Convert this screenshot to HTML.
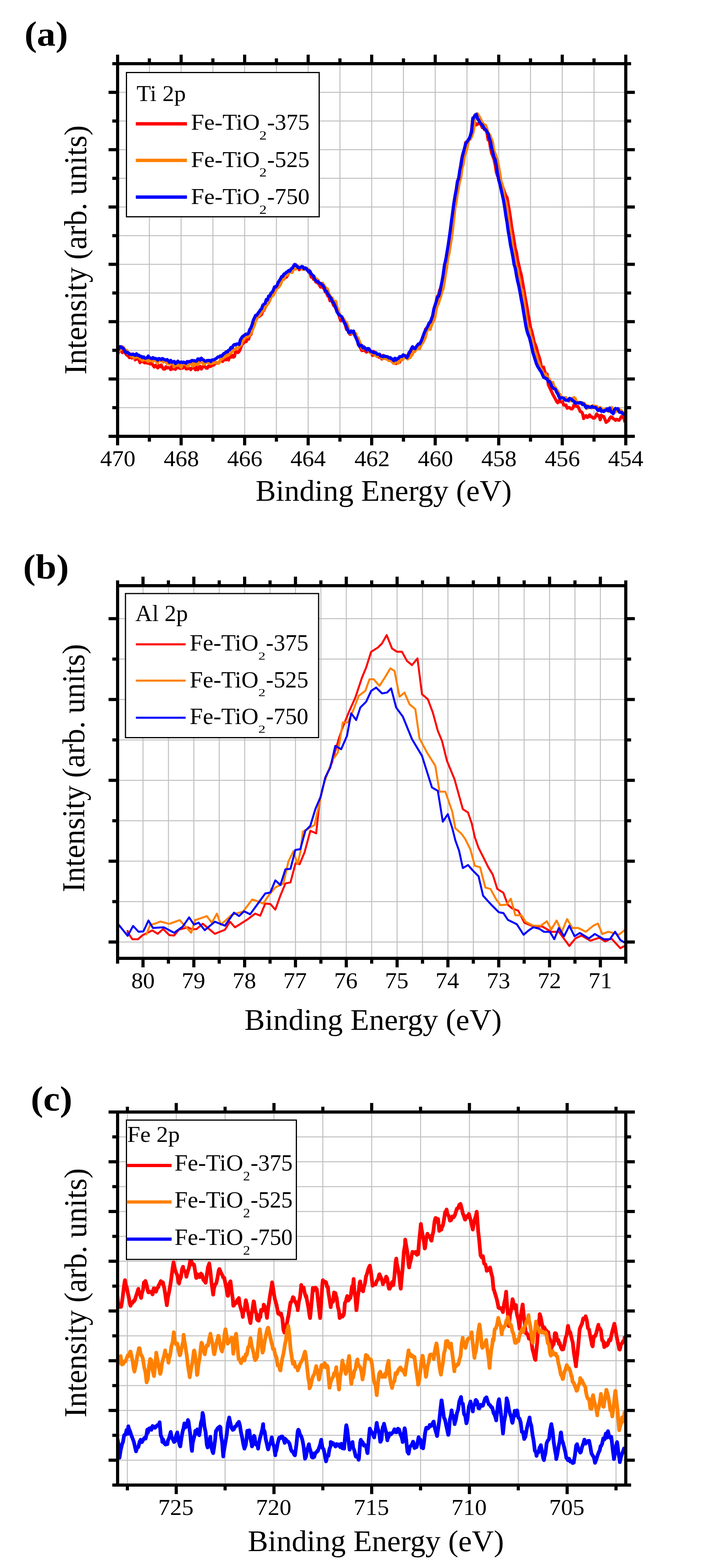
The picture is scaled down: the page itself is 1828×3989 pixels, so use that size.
<!DOCTYPE html>
<html><head><meta charset="utf-8"><title>XPS spectra</title>
<style>html,body{margin:0;padding:0;background:#fff;} svg{display:block;}</style>
</head><body>
<svg width="1828" height="3989" viewBox="0 0 1828 3989"><rect x="378.5" y="162" width="2.5" height="948" fill="#c0c0c0"/>
<rect x="459.25" y="162" width="2.5" height="948" fill="#c0c0c0"/>
<rect x="540" y="162" width="2.5" height="948" fill="#c0c0c0"/>
<rect x="620.75" y="162" width="2.5" height="948" fill="#c0c0c0"/>
<rect x="701.5" y="162" width="2.5" height="948" fill="#c0c0c0"/>
<rect x="782.25" y="162" width="2.5" height="948" fill="#c0c0c0"/>
<rect x="863" y="162" width="2.5" height="948" fill="#c0c0c0"/>
<rect x="943.75" y="162" width="2.5" height="948" fill="#c0c0c0"/>
<rect x="1024.5" y="162" width="2.5" height="948" fill="#c0c0c0"/>
<rect x="1105.25" y="162" width="2.5" height="948" fill="#c0c0c0"/>
<rect x="1186" y="162" width="2.5" height="948" fill="#c0c0c0"/>
<rect x="1266.75" y="162" width="2.5" height="948" fill="#c0c0c0"/>
<rect x="1347.5" y="162" width="2.5" height="948" fill="#c0c0c0"/>
<rect x="1428.25" y="162" width="2.5" height="948" fill="#c0c0c0"/>
<rect x="1509" y="162" width="2.5" height="948" fill="#c0c0c0"/>
<rect x="299" y="1035.83" width="1292" height="2.5" fill="#c0c0c0"/>
<rect x="299" y="962.9" width="1292" height="2.5" fill="#c0c0c0"/>
<rect x="299" y="889.98" width="1292" height="2.5" fill="#c0c0c0"/>
<rect x="299" y="817.06" width="1292" height="2.5" fill="#c0c0c0"/>
<rect x="299" y="744.13" width="1292" height="2.5" fill="#c0c0c0"/>
<rect x="299" y="671.21" width="1292" height="2.5" fill="#c0c0c0"/>
<rect x="299" y="598.29" width="1292" height="2.5" fill="#c0c0c0"/>
<rect x="299" y="525.37" width="1292" height="2.5" fill="#c0c0c0"/>
<rect x="299" y="452.44" width="1292" height="2.5" fill="#c0c0c0"/>
<rect x="299" y="379.52" width="1292" height="2.5" fill="#c0c0c0"/>
<rect x="299" y="306.6" width="1292" height="2.5" fill="#c0c0c0"/>
<rect x="299" y="233.67" width="1292" height="2.5" fill="#c0c0c0"/>
<clipPath id="clipa"><rect x="299" y="162" width="1292" height="948"/></clipPath>
<polyline points="299.0,902.3 302.0,893.4 305.0,889.6 308.0,892.2 311.0,897.0 314.0,894.3 317.0,893.4 320.0,900.5 323.0,903.9 326.0,905.1 329.0,909.7 332.0,907.9 335.0,910.7 338.0,905.6 341.0,911.7 344.0,915.6 347.0,912.2 350.0,913.1 353.0,915.2 356.0,922.5 359.0,915.2 362.0,918.5 365.0,921.2 368.0,923.1 371.0,920.6 374.0,923.8 377.0,923.1 380.0,925.3 383.0,925.9 386.0,924.4 389.0,929.3 392.0,933.4 395.0,929.4 398.0,933.1 401.0,935.9 404.0,930.0 407.0,933.0 410.0,928.5 413.0,935.0 416.0,939.1 419.0,938.9 422.0,932.8 425.0,936.3 428.0,935.1 431.0,935.7 434.0,940.2 437.0,931.6 440.0,938.6 443.0,935.3 446.0,939.6 449.0,935.8 452.0,933.2 455.0,936.0 458.0,937.4 461.0,935.3 464.0,936.7 467.0,933.6 470.0,928.8 473.0,938.6 476.0,938.4 479.0,937.0 482.0,937.1 485.0,940.3 488.0,936.0 491.0,935.2 494.0,936.7 497.0,940.8 500.0,933.0 503.0,940.7 506.0,934.6 509.0,932.2 512.0,938.9 515.0,934.4 518.0,930.5 521.0,932.9 524.0,936.4 527.0,936.9 530.0,931.2 533.0,932.4 536.0,932.1 539.0,926.8 542.0,929.3 545.0,927.0 548.0,924.3 551.0,923.2 554.0,923.7 557.0,922.1 560.0,918.4 563.0,916.9 566.0,919.6 569.0,915.0 572.0,915.5 575.0,915.2 578.0,912.1 581.0,915.8 584.0,905.1 587.0,908.5 590.0,903.7 593.0,908.8 596.0,907.1 599.0,894.1 602.0,894.6 605.0,896.9 608.0,894.0 611.0,887.7 614.0,879.1 617.0,874.5 620.0,872.2 623.0,867.9 626.0,869.1 629.0,857.1 632.0,863.0 635.0,851.6 638.0,851.2 641.0,838.7 644.0,827.7 647.0,822.4 650.0,813.9 653.0,810.0 656.0,804.2 659.0,804.9 662.0,802.5 665.0,800.1 668.0,791.5 671.0,789.9 674.0,781.7 677.0,776.2 680.0,773.1 683.0,769.4 686.0,760.2 689.0,755.4 692.0,750.6 695.0,746.2 698.0,738.2 701.0,739.0 704.0,730.0 707.0,727.8 710.0,719.1 713.0,717.9 716.0,713.2 719.0,706.0 722.0,710.1 725.0,703.0 728.0,705.1 731.0,700.5 734.0,693.5 737.0,690.9 740.0,689.7 743.0,685.0 746.0,681.5 749.0,677.1 752.0,673.5 755.0,681.2 758.0,678.2 761.0,686.2 764.0,682.5 767.0,682.1 770.0,683.2 773.0,684.7 776.0,681.8 779.0,683.0 782.0,687.2 785.0,686.5 788.0,693.0 791.0,704.8 794.0,701.0 797.0,710.3 800.0,708.4 803.0,717.7 806.0,718.3 809.0,721.0 812.0,724.8 815.0,730.3 818.0,727.8 821.0,732.2 824.0,733.4 827.0,742.6 830.0,744.6 833.0,752.6 836.0,754.8 839.0,765.0 842.0,758.6 845.0,768.5 848.0,776.9 851.0,779.6 854.0,785.4 857.0,794.0 860.0,797.0 863.0,805.3 866.0,816.0 869.0,815.9 872.0,812.9 875.0,819.1 878.0,827.3 881.0,838.3 884.0,839.6 887.0,846.7 890.0,850.7 893.0,849.6 896.0,844.9 899.0,845.4 902.0,850.7 905.0,859.9 908.0,861.9 911.0,877.4 914.0,879.8 917.0,886.2 920.0,891.9 923.0,891.3 926.0,885.8 929.0,893.4 932.0,895.8 935.0,891.6 938.0,892.4 941.0,896.5 944.0,893.5 947.0,904.2 950.0,894.0 953.0,899.4 956.0,903.4 959.0,905.0 962.0,907.7 965.0,909.2 968.0,908.5 971.0,913.3 974.0,904.2 977.0,911.4 980.0,910.0 983.0,913.3 986.0,914.4 989.0,911.7 992.0,913.3 995.0,918.3 998.0,917.7 1001.0,915.4 1004.0,924.2 1007.0,924.7 1010.0,912.2 1013.0,916.4 1016.0,921.4 1019.0,913.8 1022.0,909.6 1025.0,905.9 1028.0,906.4 1031.0,908.9 1034.0,909.3 1037.0,911.6 1040.0,902.8 1043.0,897.4 1046.0,890.0 1049.0,891.4 1052.0,886.8 1055.0,886.9 1058.0,888.5 1061.0,884.4 1064.0,880.9 1067.0,876.6 1070.0,871.8 1073.0,864.4 1076.0,855.4 1079.0,850.1 1082.0,837.3 1085.0,839.6 1088.0,830.7 1091.0,823.5 1094.0,819.3 1097.0,812.8 1100.0,803.3 1103.0,788.6 1106.0,782.2 1109.0,767.0 1112.0,754.0 1115.0,750.1 1118.0,737.8 1121.0,731.0 1124.0,717.5 1127.0,699.4 1130.0,676.6 1133.0,661.2 1136.0,650.8 1139.0,628.4 1142.0,609.5 1145.0,589.2 1148.0,569.2 1151.0,541.4 1154.0,516.8 1157.0,499.5 1160.0,482.3 1163.0,461.6 1166.0,452.5 1169.0,437.0 1172.0,414.8 1175.0,398.3 1178.0,386.8 1181.0,382.7 1184.0,362.5 1187.0,360.7 1190.0,356.5 1193.0,354.3 1196.0,347.1 1199.0,330.5 1202.0,299.9 1205.0,311.1 1208.0,313.2 1211.0,317.6 1214.0,316.1 1217.0,313.0 1220.0,314.9 1223.0,316.4 1226.0,324.6 1229.0,324.8 1232.0,330.1 1235.0,330.3 1238.0,337.1 1241.0,356.1 1244.0,356.6 1247.0,376.2 1250.0,390.0 1253.0,397.2 1256.0,405.4 1259.0,419.5 1262.0,438.3 1265.0,447.6 1268.0,451.8 1271.0,462.9 1274.0,466.0 1277.0,472.7 1280.0,481.1 1283.0,489.6 1286.0,498.0 1289.0,501.9 1292.0,518.9 1295.0,535.7 1298.0,555.0 1301.0,577.9 1304.0,594.2 1307.0,612.0 1310.0,631.8 1313.0,641.7 1316.0,661.6 1319.0,673.4 1322.0,687.9 1325.0,697.8 1328.0,714.7 1331.0,732.0 1334.0,749.4 1337.0,765.8 1340.0,781.6 1343.0,800.7 1346.0,816.8 1349.0,834.1 1352.0,842.6 1355.0,855.6 1358.0,870.1 1361.0,876.9 1364.0,884.6 1367.0,897.9 1370.0,905.8 1373.0,915.7 1376.0,931.8 1379.0,935.0 1382.0,934.2 1385.0,945.2 1388.0,951.8 1391.0,952.1 1394.0,978.7 1397.0,984.8 1400.0,991.6 1403.0,997.7 1406.0,1004.3 1409.0,1009.6 1412.0,1015.0 1415.0,1021.1 1418.0,1024.6 1421.0,1019.2 1424.0,1022.2 1427.0,1022.3 1430.0,1021.9 1433.0,1030.3 1436.0,1031.0 1439.0,1030.3 1442.0,1038.4 1445.0,1037.0 1448.0,1036.7 1451.0,1039.8 1454.0,1040.4 1457.0,1037.2 1460.0,1027.8 1463.0,1032.2 1466.0,1033.8 1469.0,1034.0 1472.0,1039.4 1475.0,1046.7 1478.0,1047.6 1481.0,1051.7 1484.0,1064.8 1487.0,1058.6 1490.0,1057.4 1493.0,1062.0 1496.0,1060.7 1499.0,1055.5 1502.0,1059.9 1505.0,1060.5 1508.0,1063.7 1511.0,1063.8 1514.0,1060.4 1517.0,1052.9 1520.0,1057.3 1523.0,1057.6 1526.0,1067.8 1529.0,1056.2 1532.0,1059.5 1535.0,1059.5 1538.0,1066.8 1541.0,1074.5 1544.0,1072.0 1547.0,1070.2 1550.0,1064.4 1553.0,1060.5 1556.0,1061.4 1559.0,1065.3 1562.0,1066.3 1565.0,1069.4 1568.0,1066.7 1571.0,1068.2 1574.0,1069.2 1577.0,1064.7 1580.0,1059.4 1583.0,1061.5 1586.0,1063.0 1589.0,1074.4" fill="none" stroke="#ff0000" stroke-width="8" stroke-linejoin="round" stroke-linecap="butt" clip-path="url(#clipa)"/>
<polyline points="301.5,892.5 304.5,891.1 307.5,887.9 310.5,882.3 313.5,883.5 316.5,889.5 319.5,895.1 322.5,891.5 325.5,898.9 328.5,899.7 331.5,900.2 334.5,906.7 337.5,904.2 340.5,911.1 343.5,905.2 346.5,908.6 349.5,907.0 352.5,906.3 355.5,912.4 358.5,912.6 361.5,916.7 364.5,915.6 367.5,912.9 370.5,915.8 373.5,916.5 376.5,919.2 379.5,914.2 382.5,916.8 385.5,912.4 388.5,919.6 391.5,915.4 394.5,914.1 397.5,919.6 400.5,923.6 403.5,916.7 406.5,917.7 409.5,918.3 412.5,917.0 415.5,921.0 418.5,918.1 421.5,919.4 424.5,924.1 427.5,921.5 430.5,925.9 433.5,923.0 436.5,923.3 439.5,922.2 442.5,933.0 445.5,927.2 448.5,929.2 451.5,928.8 454.5,929.6 457.5,929.3 460.5,934.5 463.5,926.2 466.5,924.7 469.5,926.3 472.5,925.3 475.5,931.1 478.5,931.3 481.5,925.9 484.5,924.3 487.5,926.9 490.5,931.3 493.5,919.0 496.5,927.6 499.5,922.4 502.5,927.5 505.5,920.8 508.5,922.3 511.5,918.2 514.5,919.5 517.5,926.6 520.5,925.5 523.5,922.6 526.5,921.7 529.5,919.3 532.5,923.9 535.5,924.9 538.5,924.3 541.5,923.9 544.5,920.6 547.5,923.0 550.5,921.6 553.5,923.8 556.5,923.9 559.5,916.7 562.5,913.1 565.5,912.8 568.5,909.0 571.5,906.4 574.5,906.1 577.5,901.3 580.5,903.8 583.5,899.8 586.5,898.6 589.5,895.1 592.5,891.4 595.5,888.5 598.5,888.3 601.5,885.4 604.5,885.6 607.5,882.9 610.5,876.8 613.5,877.5 616.5,867.8 619.5,864.1 622.5,859.9 625.5,852.5 628.5,856.9 631.5,855.4 634.5,852.7 637.5,848.7 640.5,842.6 643.5,834.2 646.5,827.4 649.5,817.6 652.5,811.2 655.5,803.2 658.5,803.4 661.5,799.3 664.5,794.9 667.5,790.4 670.5,789.3 673.5,778.2 676.5,779.3 679.5,773.9 682.5,769.2 685.5,764.7 688.5,756.9 691.5,753.3 694.5,751.0 697.5,745.6 700.5,740.2 703.5,730.7 706.5,731.8 709.5,729.1 712.5,724.1 715.5,717.4 718.5,707.9 721.5,710.4 724.5,703.0 727.5,693.5 730.5,699.8 733.5,692.7 736.5,691.4 739.5,691.2 742.5,693.3 745.5,685.4 748.5,683.9 751.5,684.7 754.5,681.6 757.5,678.3 760.5,680.9 763.5,680.6 766.5,682.4 769.5,685.2 772.5,684.7 775.5,683.6 778.5,686.5 781.5,683.8 784.5,688.1 787.5,692.5 790.5,694.5 793.5,699.3 796.5,701.7 799.5,703.9 802.5,710.0 805.5,710.4 808.5,712.5 811.5,721.1 814.5,721.2 817.5,724.1 820.5,720.4 823.5,726.7 826.5,730.6 829.5,734.3 832.5,734.9 835.5,744.8 838.5,752.9 841.5,756.3 844.5,758.3 847.5,764.7 850.5,771.7 853.5,766.9 856.5,780.8 859.5,789.7 862.5,797.0 865.5,805.7 868.5,807.8 871.5,809.2 874.5,812.9 877.5,818.3 880.5,820.4 883.5,828.5 886.5,837.9 889.5,847.6 892.5,847.2 895.5,846.7 898.5,846.4 901.5,849.2 904.5,848.9 907.5,859.7 910.5,859.6 913.5,868.5 916.5,875.1 919.5,883.9 922.5,887.5 925.5,882.0 928.5,885.2 931.5,890.3 934.5,889.2 937.5,888.3 940.5,897.1 943.5,897.2 946.5,898.7 949.5,897.6 952.5,903.4 955.5,901.4 958.5,906.7 961.5,902.7 964.5,904.4 967.5,908.9 970.5,907.6 973.5,912.3 976.5,912.0 979.5,909.5 982.5,913.1 985.5,912.8 988.5,917.2 991.5,913.7 994.5,915.1 997.5,920.6 1000.5,924.3 1003.5,924.4 1006.5,919.6 1009.5,920.5 1012.5,923.7 1015.5,917.9 1018.5,914.3 1021.5,915.6 1024.5,914.0 1027.5,907.9 1030.5,903.8 1033.5,905.9 1036.5,913.2 1039.5,910.2 1042.5,909.6 1045.5,905.3 1048.5,901.1 1051.5,893.8 1054.5,894.1 1057.5,888.1 1060.5,887.4 1063.5,883.5 1066.5,887.1 1069.5,880.0 1072.5,874.1 1075.5,870.7 1078.5,863.9 1081.5,858.0 1084.5,843.3 1087.5,837.9 1090.5,834.8 1093.5,837.9 1096.5,828.6 1099.5,820.4 1102.5,815.8 1105.5,807.5 1108.5,789.0 1111.5,777.0 1114.5,772.1 1117.5,761.6 1120.5,753.5 1123.5,741.0 1126.5,734.4 1129.5,716.9 1132.5,696.9 1135.5,680.3 1138.5,655.3 1141.5,644.8 1144.5,624.4 1147.5,607.2 1150.5,584.3 1153.5,557.2 1156.5,529.6 1159.5,514.8 1162.5,493.6 1165.5,476.9 1168.5,460.7 1171.5,451.8 1174.5,427.4 1177.5,418.0 1180.5,397.3 1183.5,387.9 1186.5,379.5 1189.5,364.5 1192.5,355.3 1195.5,353.8 1198.5,348.1 1201.5,340.5 1204.5,327.3 1207.5,296.0 1210.5,298.3 1213.5,289.2 1216.5,294.0 1219.5,298.9 1222.5,304.8 1225.5,312.0 1228.5,315.3 1231.5,318.5 1234.5,319.0 1237.5,327.2 1240.5,336.9 1243.5,342.1 1246.5,346.1 1249.5,355.2 1252.5,363.6 1255.5,383.2 1258.5,390.6 1261.5,399.7 1264.5,409.0 1267.5,423.1 1270.5,440.6 1273.5,460.7 1276.5,469.2 1279.5,483.0 1282.5,504.9 1285.5,513.4 1288.5,528.5 1291.5,549.4 1294.5,572.0 1297.5,588.4 1300.5,609.2 1303.5,629.1 1306.5,643.9 1309.5,659.0 1312.5,677.0 1315.5,684.7 1318.5,700.9 1321.5,713.5 1324.5,733.8 1327.5,738.8 1330.5,757.8 1333.5,777.1 1336.5,799.9 1339.5,818.5 1342.5,835.1 1345.5,837.2 1348.5,854.1 1351.5,862.0 1354.5,873.1 1357.5,888.6 1360.5,896.3 1363.5,902.9 1366.5,916.7 1369.5,922.4 1372.5,931.8 1375.5,939.1 1378.5,943.3 1381.5,951.5 1384.5,951.9 1387.5,952.4 1390.5,958.2 1393.5,961.4 1396.5,964.1 1399.5,972.4 1402.5,973.0 1405.5,973.0 1408.5,984.3 1411.5,985.9 1414.5,991.1 1417.5,994.5 1420.5,1000.8 1423.5,1003.9 1426.5,1011.6 1429.5,1011.2 1432.5,1013.0 1435.5,1014.9 1438.5,1011.5 1441.5,1016.9 1444.5,1018.1 1447.5,1020.5 1450.5,1014.7 1453.5,1019.7 1456.5,1013.0 1459.5,1011.6 1462.5,1014.0 1465.5,1021.7 1468.5,1024.6 1471.5,1023.3 1474.5,1026.1 1477.5,1024.5 1480.5,1028.4 1483.5,1025.3 1486.5,1027.7 1489.5,1031.5 1492.5,1039.3 1495.5,1032.8 1498.5,1035.9 1501.5,1034.2 1504.5,1038.1 1507.5,1032.0 1510.5,1033.2 1513.5,1034.3 1516.5,1033.8 1519.5,1036.5 1522.5,1040.3 1525.5,1036.7 1528.5,1038.9 1531.5,1042.2 1534.5,1044.2 1537.5,1043.6 1540.5,1039.5 1543.5,1043.5 1546.5,1046.4 1549.5,1043.3 1552.5,1039.3 1555.5,1036.7 1558.5,1047.1 1561.5,1049.1 1564.5,1048.0 1567.5,1042.7 1570.5,1043.5 1573.5,1039.8 1576.5,1046.0 1579.5,1044.9 1582.5,1051.7 1585.5,1049.3 1588.5,1052.6 1591.5,1062.0" fill="none" stroke="#ff8000" stroke-width="8" stroke-linejoin="round" stroke-linecap="butt" clip-path="url(#clipa)"/>
<polyline points="299.0,892.0 302.0,887.7 305.0,881.7 308.0,882.1 311.0,885.2 314.0,886.8 317.0,891.9 320.0,897.4 323.0,896.4 326.0,897.3 329.0,900.6 332.0,901.5 335.0,902.2 338.0,900.5 341.0,902.3 344.0,903.8 347.0,900.1 350.0,904.1 353.0,903.4 356.0,906.8 359.0,906.4 362.0,909.7 365.0,907.8 368.0,911.0 371.0,910.9 374.0,910.3 377.0,905.8 380.0,909.9 383.0,911.3 386.0,912.3 389.0,909.6 392.0,912.3 395.0,911.8 398.0,912.8 401.0,916.1 404.0,912.0 407.0,913.2 410.0,914.7 413.0,912.0 416.0,913.9 419.0,915.3 422.0,916.2 425.0,914.6 428.0,918.2 431.0,921.8 434.0,916.6 437.0,921.7 440.0,920.5 443.0,919.3 446.0,924.9 449.0,922.7 452.0,918.8 455.0,921.3 458.0,922.4 461.0,920.8 464.0,922.6 467.0,921.1 470.0,922.5 473.0,924.1 476.0,919.5 479.0,920.9 482.0,919.2 485.0,920.0 488.0,916.9 491.0,917.4 494.0,917.4 497.0,918.9 500.0,918.6 503.0,912.9 506.0,913.3 509.0,915.9 512.0,911.1 515.0,914.7 518.0,915.9 521.0,919.1 524.0,918.5 527.0,916.9 530.0,916.9 533.0,916.7 536.0,919.8 539.0,915.6 542.0,915.4 545.0,915.3 548.0,912.8 551.0,911.2 554.0,907.9 557.0,908.3 560.0,905.2 563.0,906.2 566.0,903.0 569.0,899.4 572.0,898.7 575.0,894.7 578.0,895.4 581.0,891.2 584.0,890.1 587.0,884.1 590.0,885.2 593.0,878.9 596.0,876.2 599.0,877.8 602.0,874.7 605.0,875.0 608.0,876.4 611.0,864.7 614.0,859.7 617.0,855.8 620.0,854.1 623.0,851.3 626.0,849.7 629.0,850.1 632.0,847.3 635.0,838.1 638.0,833.9 641.0,825.6 644.0,814.6 647.0,808.5 650.0,802.0 653.0,802.0 656.0,796.8 659.0,793.0 662.0,788.1 665.0,785.3 668.0,776.7 671.0,773.6 674.0,771.8 677.0,761.9 680.0,763.1 683.0,753.1 686.0,753.3 689.0,745.3 692.0,743.8 695.0,737.7 698.0,729.6 701.0,730.5 704.0,726.4 707.0,718.9 710.0,714.0 713.0,709.7 716.0,703.5 719.0,703.2 722.0,696.9 725.0,696.0 728.0,692.6 731.0,691.1 734.0,688.0 737.0,689.8 740.0,683.7 743.0,682.6 746.0,677.3 749.0,672.6 752.0,674.4 755.0,677.0 758.0,681.1 761.0,680.7 764.0,680.4 767.0,677.9 770.0,678.7 773.0,683.7 776.0,681.3 779.0,682.8 782.0,687.8 785.0,692.2 788.0,689.7 791.0,696.4 794.0,699.8 797.0,701.8 800.0,711.0 803.0,713.7 806.0,716.3 809.0,716.5 812.0,720.8 815.0,720.7 818.0,723.7 821.0,726.3 824.0,730.5 827.0,740.1 830.0,740.9 833.0,747.2 836.0,751.3 839.0,755.3 842.0,760.0 845.0,767.0 848.0,770.0 851.0,776.6 854.0,784.0 857.0,793.4 860.0,798.6 863.0,801.8 866.0,803.6 869.0,805.7 872.0,814.1 875.0,819.7 878.0,824.2 881.0,832.3 884.0,839.6 887.0,846.4 890.0,845.9 893.0,842.1 896.0,845.0 899.0,842.3 902.0,853.1 905.0,859.0 908.0,866.3 911.0,874.9 914.0,880.7 917.0,878.5 920.0,878.9 923.0,885.4 926.0,883.2 929.0,886.8 932.0,890.0 935.0,886.5 938.0,887.1 941.0,893.3 944.0,894.4 947.0,895.3 950.0,897.3 953.0,897.0 956.0,897.2 959.0,901.4 962.0,901.3 965.0,901.1 968.0,906.1 971.0,905.8 974.0,907.5 977.0,905.4 980.0,906.9 983.0,906.9 986.0,907.9 989.0,910.8 992.0,909.6 995.0,912.6 998.0,913.4 1001.0,917.5 1004.0,911.4 1007.0,915.7 1010.0,912.6 1013.0,911.7 1016.0,907.3 1019.0,906.9 1022.0,906.9 1025.0,902.8 1028.0,904.7 1031.0,905.5 1034.0,910.0 1037.0,906.0 1040.0,896.4 1043.0,894.2 1046.0,886.6 1049.0,882.0 1052.0,885.5 1055.0,887.2 1058.0,882.6 1061.0,878.2 1064.0,874.8 1067.0,875.1 1070.0,869.4 1073.0,862.3 1076.0,853.7 1079.0,845.5 1082.0,839.8 1085.0,834.4 1088.0,828.8 1091.0,821.4 1094.0,819.7 1097.0,811.4 1100.0,803.0 1103.0,786.3 1106.0,776.6 1109.0,767.5 1112.0,756.4 1115.0,754.1 1118.0,745.1 1121.0,728.7 1124.0,714.4 1127.0,696.8 1130.0,674.1 1133.0,662.7 1136.0,644.2 1139.0,626.5 1142.0,606.2 1145.0,584.5 1148.0,560.5 1151.0,539.1 1154.0,516.3 1157.0,497.7 1160.0,482.8 1163.0,461.7 1166.0,454.4 1169.0,432.8 1172.0,420.4 1175.0,400.1 1178.0,388.1 1181.0,376.8 1184.0,365.2 1187.0,361.4 1190.0,356.5 1193.0,352.6 1196.0,344.0 1199.0,335.0 1202.0,303.5 1205.0,297.9 1208.0,292.5 1211.0,290.8 1214.0,301.4 1217.0,305.5 1220.0,311.6 1223.0,315.6 1226.0,317.5 1229.0,323.0 1232.0,328.3 1235.0,330.1 1238.0,335.3 1241.0,340.1 1244.0,351.5 1247.0,359.9 1250.0,376.7 1253.0,387.6 1256.0,400.1 1259.0,406.2 1262.0,420.9 1265.0,441.4 1268.0,458.4 1271.0,469.1 1274.0,482.0 1277.0,496.0 1280.0,509.1 1283.0,527.1 1286.0,548.3 1289.0,565.8 1292.0,588.0 1295.0,604.9 1298.0,624.4 1301.0,638.0 1304.0,654.1 1307.0,672.9 1310.0,682.5 1313.0,700.4 1316.0,715.5 1319.0,727.7 1322.0,743.0 1325.0,760.4 1328.0,775.0 1331.0,793.6 1334.0,811.5 1337.0,829.5 1340.0,842.8 1343.0,852.2 1346.0,858.9 1349.0,871.2 1352.0,884.0 1355.0,897.7 1358.0,906.8 1361.0,916.7 1364.0,925.9 1367.0,932.3 1370.0,937.2 1373.0,942.1 1376.0,946.0 1379.0,952.8 1382.0,959.9 1385.0,960.9 1388.0,963.4 1391.0,963.6 1394.0,971.3 1397.0,970.3 1400.0,975.1 1403.0,983.5 1406.0,987.0 1409.0,989.1 1412.0,990.0 1415.0,997.4 1418.0,1001.6 1421.0,1009.1 1424.0,1014.2 1427.0,1012.0 1430.0,1011.9 1433.0,1012.9 1436.0,1017.0 1439.0,1018.3 1442.0,1017.8 1445.0,1019.3 1448.0,1013.4 1451.0,1014.6 1454.0,1016.5 1457.0,1020.3 1460.0,1021.1 1463.0,1025.8 1466.0,1025.0 1469.0,1025.0 1472.0,1025.6 1475.0,1024.1 1478.0,1024.4 1481.0,1029.3 1484.0,1027.9 1487.0,1032.0 1490.0,1037.2 1493.0,1033.9 1496.0,1035.1 1499.0,1036.4 1502.0,1036.1 1505.0,1033.9 1508.0,1036.1 1511.0,1036.5 1514.0,1036.3 1517.0,1039.5 1520.0,1044.2 1523.0,1043.9 1526.0,1039.5 1529.0,1046.4 1532.0,1045.3 1535.0,1047.1 1538.0,1044.0 1541.0,1044.0 1544.0,1039.9 1547.0,1044.8 1550.0,1037.9 1553.0,1047.5 1556.0,1049.1 1559.0,1052.6 1562.0,1042.6 1565.0,1038.9 1568.0,1040.6 1571.0,1039.7 1574.0,1047.9 1577.0,1049.4 1580.0,1048.6 1583.0,1051.7 1586.0,1053.8 1589.0,1056.6" fill="none" stroke="#0000ff" stroke-width="8" stroke-linejoin="round" stroke-linecap="butt" clip-path="url(#clipa)"/>
<rect x="321.5" y="184.5" width="490" height="367" fill="#fff" stroke="#000" stroke-width="3"/>
<rect x="295" y="158" width="1300" height="8" fill="#000"/>
<rect x="295" y="1106" width="1300" height="8" fill="#000"/>
<rect x="295" y="158" width="8" height="956" fill="#000"/>
<rect x="1587" y="158" width="8" height="956" fill="#000"/>
<rect x="295" y="1114" width="8" height="19" fill="#000"/>
<rect x="295" y="139" width="8" height="19" fill="#000"/>
<rect x="375.75" y="1114" width="8" height="9.5" fill="#000"/>
<rect x="375.75" y="148.5" width="8" height="9.5" fill="#000"/>
<rect x="456.5" y="1114" width="8" height="19" fill="#000"/>
<rect x="456.5" y="139" width="8" height="19" fill="#000"/>
<rect x="537.25" y="1114" width="8" height="9.5" fill="#000"/>
<rect x="537.25" y="148.5" width="8" height="9.5" fill="#000"/>
<rect x="618" y="1114" width="8" height="19" fill="#000"/>
<rect x="618" y="139" width="8" height="19" fill="#000"/>
<rect x="698.75" y="1114" width="8" height="9.5" fill="#000"/>
<rect x="698.75" y="148.5" width="8" height="9.5" fill="#000"/>
<rect x="779.5" y="1114" width="8" height="19" fill="#000"/>
<rect x="779.5" y="139" width="8" height="19" fill="#000"/>
<rect x="860.25" y="1114" width="8" height="9.5" fill="#000"/>
<rect x="860.25" y="148.5" width="8" height="9.5" fill="#000"/>
<rect x="941" y="1114" width="8" height="19" fill="#000"/>
<rect x="941" y="139" width="8" height="19" fill="#000"/>
<rect x="1021.75" y="1114" width="8" height="9.5" fill="#000"/>
<rect x="1021.75" y="148.5" width="8" height="9.5" fill="#000"/>
<rect x="1102.5" y="1114" width="8" height="19" fill="#000"/>
<rect x="1102.5" y="139" width="8" height="19" fill="#000"/>
<rect x="1183.25" y="1114" width="8" height="9.5" fill="#000"/>
<rect x="1183.25" y="148.5" width="8" height="9.5" fill="#000"/>
<rect x="1264" y="1114" width="8" height="19" fill="#000"/>
<rect x="1264" y="139" width="8" height="19" fill="#000"/>
<rect x="1344.75" y="1114" width="8" height="9.5" fill="#000"/>
<rect x="1344.75" y="148.5" width="8" height="9.5" fill="#000"/>
<rect x="1425.5" y="1114" width="8" height="19" fill="#000"/>
<rect x="1425.5" y="139" width="8" height="19" fill="#000"/>
<rect x="1506.25" y="1114" width="8" height="9.5" fill="#000"/>
<rect x="1506.25" y="148.5" width="8" height="9.5" fill="#000"/>
<rect x="1587" y="1114" width="8" height="19" fill="#000"/>
<rect x="1587" y="139" width="8" height="19" fill="#000"/>
<rect x="276" y="1106" width="19" height="8" fill="#000"/>
<rect x="1595" y="1106" width="19" height="8" fill="#000"/>
<rect x="285.5" y="1033.08" width="9.5" height="8" fill="#000"/>
<rect x="1595" y="1033.08" width="9.5" height="8" fill="#000"/>
<rect x="276" y="960.15" width="19" height="8" fill="#000"/>
<rect x="1595" y="960.15" width="19" height="8" fill="#000"/>
<rect x="285.5" y="887.23" width="9.5" height="8" fill="#000"/>
<rect x="1595" y="887.23" width="9.5" height="8" fill="#000"/>
<rect x="276" y="814.31" width="19" height="8" fill="#000"/>
<rect x="1595" y="814.31" width="19" height="8" fill="#000"/>
<rect x="285.5" y="741.38" width="9.5" height="8" fill="#000"/>
<rect x="1595" y="741.38" width="9.5" height="8" fill="#000"/>
<rect x="276" y="668.46" width="19" height="8" fill="#000"/>
<rect x="1595" y="668.46" width="19" height="8" fill="#000"/>
<rect x="285.5" y="595.54" width="9.5" height="8" fill="#000"/>
<rect x="1595" y="595.54" width="9.5" height="8" fill="#000"/>
<rect x="276" y="522.62" width="19" height="8" fill="#000"/>
<rect x="1595" y="522.62" width="19" height="8" fill="#000"/>
<rect x="285.5" y="449.69" width="9.5" height="8" fill="#000"/>
<rect x="1595" y="449.69" width="9.5" height="8" fill="#000"/>
<rect x="276" y="376.77" width="19" height="8" fill="#000"/>
<rect x="1595" y="376.77" width="19" height="8" fill="#000"/>
<rect x="285.5" y="303.85" width="9.5" height="8" fill="#000"/>
<rect x="1595" y="303.85" width="9.5" height="8" fill="#000"/>
<rect x="276" y="230.92" width="19" height="8" fill="#000"/>
<rect x="1595" y="230.92" width="19" height="8" fill="#000"/>
<rect x="285.5" y="158" width="9.5" height="8" fill="#000"/>
<rect x="1595" y="158" width="9.5" height="8" fill="#000"/>
<rect x="362.35" y="1490" width="2.5" height="948" fill="#c0c0c0"/>
<rect x="426.95" y="1490" width="2.5" height="948" fill="#c0c0c0"/>
<rect x="491.55" y="1490" width="2.5" height="948" fill="#c0c0c0"/>
<rect x="556.15" y="1490" width="2.5" height="948" fill="#c0c0c0"/>
<rect x="620.75" y="1490" width="2.5" height="948" fill="#c0c0c0"/>
<rect x="685.35" y="1490" width="2.5" height="948" fill="#c0c0c0"/>
<rect x="749.95" y="1490" width="2.5" height="948" fill="#c0c0c0"/>
<rect x="814.55" y="1490" width="2.5" height="948" fill="#c0c0c0"/>
<rect x="879.15" y="1490" width="2.5" height="948" fill="#c0c0c0"/>
<rect x="943.75" y="1490" width="2.5" height="948" fill="#c0c0c0"/>
<rect x="1008.35" y="1490" width="2.5" height="948" fill="#c0c0c0"/>
<rect x="1072.95" y="1490" width="2.5" height="948" fill="#c0c0c0"/>
<rect x="1137.55" y="1490" width="2.5" height="948" fill="#c0c0c0"/>
<rect x="1202.15" y="1490" width="2.5" height="948" fill="#c0c0c0"/>
<rect x="1266.75" y="1490" width="2.5" height="948" fill="#c0c0c0"/>
<rect x="1331.35" y="1490" width="2.5" height="948" fill="#c0c0c0"/>
<rect x="1395.95" y="1490" width="2.5" height="948" fill="#c0c0c0"/>
<rect x="1460.55" y="1490" width="2.5" height="948" fill="#c0c0c0"/>
<rect x="1525.15" y="1490" width="2.5" height="948" fill="#c0c0c0"/>
<rect x="299" y="2395.25" width="1292" height="2.5" fill="#c0c0c0"/>
<rect x="299" y="2292.42" width="1292" height="2.5" fill="#c0c0c0"/>
<rect x="299" y="2189.59" width="1292" height="2.5" fill="#c0c0c0"/>
<rect x="299" y="2086.76" width="1292" height="2.5" fill="#c0c0c0"/>
<rect x="299" y="1983.93" width="1292" height="2.5" fill="#c0c0c0"/>
<rect x="299" y="1881.1" width="1292" height="2.5" fill="#c0c0c0"/>
<rect x="299" y="1778.27" width="1292" height="2.5" fill="#c0c0c0"/>
<rect x="299" y="1675.44" width="1292" height="2.5" fill="#c0c0c0"/>
<rect x="299" y="1572.61" width="1292" height="2.5" fill="#c0c0c0"/>
<clipPath id="clipb"><rect x="299" y="1490" width="1292" height="948"/></clipPath>
<polyline points="324.5,2366.0 324.5,2372.0 336.7,2389.5 350.6,2389.5 362.8,2379.0 387.1,2366.9 401.0,2375.6 414.9,2363.4 430.5,2379.0 442.7,2379.9 454.8,2365.1 477.4,2359.1 487.8,2364.3 500.0,2363.4 515.5,2350.0 546.2,2375.6 571.9,2365.3 584.7,2344.8 597.5,2359.2 628.3,2339.7 648.8,2324.3 661.6,2329.5 674.4,2298.7 687.2,2299.7 700.0,2314.1 712.9,2278.2 725.7,2247.4 738.5,2244.9 751.3,2196.1 761.6,2198.7 774.2,2168.6 789.0,2113.6 803.8,2119.9 812.3,2041.5 827.1,1978.0 844.1,1939.8 861.0,1880.5 869.5,1855.1 886.4,1812.7 903.4,1774.6 920.3,1723.7 930.9,1698.3 943.6,1658.1 960.6,1647.5 971.2,1636.9 983.1,1615.7 996.6,1649.6 1009.3,1658.1 1022.0,1658.1 1034.7,1681.4 1047.5,1692.0 1061.4,1675.0 1072.9,1766.1 1087.7,1778.8 1100.4,1812.7 1113.1,1859.3 1123.7,1884.7 1136.4,1935.6 1155.5,1982.2 1176.7,2058.5 1190.0,2067.2 1199.6,2095.8 1207.2,2130.0 1216.7,2156.8 1228.2,2179.7 1241.5,2206.4 1253.0,2225.4 1264.4,2261.7 1279.7,2271.2 1291.1,2301.7 1302.6,2311.2 1317.8,2317.0 1333.1,2347.5 1356.0,2357.0 1378.8,2357.0 1401.7,2370.4 1420.8,2370.4 1447.5,2406.6 1462.7,2387.5 1478.0,2379.9 1500.9,2393.2 1523.7,2385.6 1539.0,2395.1 1554.3,2387.5 1577.1,2412.3 1591.0,2404.7" fill="none" stroke="#ff0000" stroke-width="5" stroke-linejoin="round" stroke-linecap="butt" clip-path="url(#clipb)"/>
<polyline points="371.4,2379.0 381.9,2352.1 392.3,2350.4 407.9,2344.3 430.5,2350.4 456.6,2340.8 470.5,2355.6 486.1,2373.0 496.5,2340.0 500.0,2339.7 525.7,2330.5 538.5,2347.4 551.4,2324.3 561.6,2352.5 589.8,2326.9 618.0,2319.2 641.1,2288.4 653.9,2292.5 669.3,2298.7 684.7,2275.6 700.0,2257.7 720.6,2247.4 733.4,2191.0 746.2,2165.4 756.5,2198.7 764.1,2165.4 769.9,2115.7 789.0,2105.1 799.6,2098.7 822.9,1994.9 844.1,1935.6 858.9,1914.4 871.6,1838.1 884.3,1838.1 899.2,1804.2 911.9,1770.3 928.8,1757.6 939.4,1728.0 950.0,1728.0 964.8,1744.9 979.7,1721.6 992.4,1700.4 1003.0,1706.8 1015.7,1772.5 1028.4,1761.9 1041.1,1791.5 1055.9,1804.2 1066.5,1878.4 1085.6,1914.4 1106.8,1948.3 1117.4,2014.0 1132.2,2014.0 1150.0,2065.3 1157.6,2107.2 1172.9,2120.6 1182.4,2133.9 1195.8,2160.6 1207.2,2202.6 1220.6,2206.4 1233.9,2257.9 1247.3,2261.7 1260.6,2286.5 1272.0,2302.5 1287.3,2301.7 1298.7,2286.5 1310.2,2328.4 1325.4,2328.4 1336.9,2345.6 1356.0,2355.1 1375.0,2355.1 1390.3,2343.7 1401.7,2364.6 1415.1,2341.8 1428.4,2370.4 1441.8,2338.0 1455.1,2360.8 1470.4,2360.8 1489.4,2370.4 1508.5,2355.1 1520.0,2349.4 1531.4,2376.1 1546.6,2370.4 1562.0,2374.2 1573.3,2378.0 1591.0,2364.0" fill="none" stroke="#ff8000" stroke-width="5" stroke-linejoin="round" stroke-linecap="butt" clip-path="url(#clipb)"/>
<polyline points="298.5,2348.6 324.5,2380.8 338.4,2355.6 352.3,2370.4 364.5,2369.5 377.5,2341.7 388.8,2360.8 416.6,2359.1 442.7,2373.0 464.2,2357.6 480.9,2333.9 493.1,2352.1 505.2,2347.4 520.6,2366.4 546.2,2344.8 571.9,2355.0 595.0,2321.8 607.8,2330.5 620.6,2318.2 636.0,2325.9 653.9,2301.3 674.4,2273.0 687.2,2270.5 700.0,2239.7 712.9,2251.5 725.7,2211.5 738.5,2210.5 750.8,2162.3 763.6,2160.2 776.3,2113.6 789.0,2100.8 801.7,2058.5 814.4,2028.8 827.1,1978.0 839.8,1952.5 852.5,1897.5 867.4,1906.0 882.2,1872.0 892.8,1814.8 905.5,1831.8 916.1,1800.0 930.9,1785.2 943.6,1757.6 956.4,1749.2 971.2,1764.0 983.9,1761.9 994.5,1751.3 1007.2,1800.0 1024.2,1823.3 1047.5,1880.5 1072.9,1922.9 1098.3,2003.4 1113.1,2011.9 1125.8,2090.3 1138.6,2071.2 1150.0,2107.2 1157.6,2137.7 1167.2,2164.4 1176.7,2208.3 1190.0,2200.6 1201.5,2214.0 1216.7,2229.3 1228.2,2278.8 1249.2,2301.7 1268.2,2320.8 1279.7,2322.7 1291.1,2339.9 1314.0,2351.3 1331.2,2378.0 1344.5,2366.6 1356.0,2358.9 1371.2,2362.7 1382.6,2370.4 1397.9,2370.4 1409.3,2389.4 1420.8,2360.8 1434.1,2381.8 1447.5,2355.1 1460.8,2381.8 1474.2,2373.4 1497.1,2387.5 1512.3,2376.1 1535.2,2389.4 1550.5,2389.4 1563.8,2370.4 1577.1,2391.3 1591.0,2400.0" fill="none" stroke="#0000ff" stroke-width="5" stroke-linejoin="round" stroke-linecap="butt" clip-path="url(#clipb)"/>
<rect x="319" y="1510" width="491" height="366.5" fill="#fff" stroke="#000" stroke-width="3"/>
<rect x="295" y="1486" width="1300" height="8" fill="#000"/>
<rect x="295" y="2434" width="1300" height="8" fill="#000"/>
<rect x="295" y="1486" width="8" height="956" fill="#000"/>
<rect x="1587" y="1486" width="8" height="956" fill="#000"/>
<rect x="295" y="2442" width="8" height="9.5" fill="#000"/>
<rect x="295" y="1476.5" width="8" height="9.5" fill="#000"/>
<rect x="359.6" y="2442" width="8" height="19" fill="#000"/>
<rect x="359.6" y="1467" width="8" height="19" fill="#000"/>
<rect x="424.2" y="2442" width="8" height="9.5" fill="#000"/>
<rect x="424.2" y="1476.5" width="8" height="9.5" fill="#000"/>
<rect x="488.8" y="2442" width="8" height="19" fill="#000"/>
<rect x="488.8" y="1467" width="8" height="19" fill="#000"/>
<rect x="553.4" y="2442" width="8" height="9.5" fill="#000"/>
<rect x="553.4" y="1476.5" width="8" height="9.5" fill="#000"/>
<rect x="618" y="2442" width="8" height="19" fill="#000"/>
<rect x="618" y="1467" width="8" height="19" fill="#000"/>
<rect x="682.6" y="2442" width="8" height="9.5" fill="#000"/>
<rect x="682.6" y="1476.5" width="8" height="9.5" fill="#000"/>
<rect x="747.2" y="2442" width="8" height="19" fill="#000"/>
<rect x="747.2" y="1467" width="8" height="19" fill="#000"/>
<rect x="811.8" y="2442" width="8" height="9.5" fill="#000"/>
<rect x="811.8" y="1476.5" width="8" height="9.5" fill="#000"/>
<rect x="876.4" y="2442" width="8" height="19" fill="#000"/>
<rect x="876.4" y="1467" width="8" height="19" fill="#000"/>
<rect x="941" y="2442" width="8" height="9.5" fill="#000"/>
<rect x="941" y="1476.5" width="8" height="9.5" fill="#000"/>
<rect x="1005.6" y="2442" width="8" height="19" fill="#000"/>
<rect x="1005.6" y="1467" width="8" height="19" fill="#000"/>
<rect x="1070.2" y="2442" width="8" height="9.5" fill="#000"/>
<rect x="1070.2" y="1476.5" width="8" height="9.5" fill="#000"/>
<rect x="1134.8" y="2442" width="8" height="19" fill="#000"/>
<rect x="1134.8" y="1467" width="8" height="19" fill="#000"/>
<rect x="1199.4" y="2442" width="8" height="9.5" fill="#000"/>
<rect x="1199.4" y="1476.5" width="8" height="9.5" fill="#000"/>
<rect x="1264" y="2442" width="8" height="19" fill="#000"/>
<rect x="1264" y="1467" width="8" height="19" fill="#000"/>
<rect x="1328.6" y="2442" width="8" height="9.5" fill="#000"/>
<rect x="1328.6" y="1476.5" width="8" height="9.5" fill="#000"/>
<rect x="1393.2" y="2442" width="8" height="19" fill="#000"/>
<rect x="1393.2" y="1467" width="8" height="19" fill="#000"/>
<rect x="1457.8" y="2442" width="8" height="9.5" fill="#000"/>
<rect x="1457.8" y="1476.5" width="8" height="9.5" fill="#000"/>
<rect x="1522.4" y="2442" width="8" height="19" fill="#000"/>
<rect x="1522.4" y="1467" width="8" height="19" fill="#000"/>
<rect x="1587" y="2442" width="8" height="9.5" fill="#000"/>
<rect x="1587" y="1476.5" width="8" height="9.5" fill="#000"/>
<rect x="276" y="2392.5" width="19" height="8" fill="#000"/>
<rect x="1595" y="2392.5" width="19" height="8" fill="#000"/>
<rect x="285.5" y="2289.67" width="9.5" height="8" fill="#000"/>
<rect x="1595" y="2289.67" width="9.5" height="8" fill="#000"/>
<rect x="276" y="2186.84" width="19" height="8" fill="#000"/>
<rect x="1595" y="2186.84" width="19" height="8" fill="#000"/>
<rect x="285.5" y="2084.01" width="9.5" height="8" fill="#000"/>
<rect x="1595" y="2084.01" width="9.5" height="8" fill="#000"/>
<rect x="276" y="1981.18" width="19" height="8" fill="#000"/>
<rect x="1595" y="1981.18" width="19" height="8" fill="#000"/>
<rect x="285.5" y="1878.35" width="9.5" height="8" fill="#000"/>
<rect x="1595" y="1878.35" width="9.5" height="8" fill="#000"/>
<rect x="276" y="1775.52" width="19" height="8" fill="#000"/>
<rect x="1595" y="1775.52" width="19" height="8" fill="#000"/>
<rect x="285.5" y="1672.69" width="9.5" height="8" fill="#000"/>
<rect x="1595" y="1672.69" width="9.5" height="8" fill="#000"/>
<rect x="276" y="1569.86" width="19" height="8" fill="#000"/>
<rect x="1595" y="1569.86" width="19" height="8" fill="#000"/>
<rect x="322.6" y="2829" width="2.5" height="949" fill="#c0c0c0"/>
<rect x="446.83" y="2829" width="2.5" height="949" fill="#c0c0c0"/>
<rect x="571.06" y="2829" width="2.5" height="949" fill="#c0c0c0"/>
<rect x="695.29" y="2829" width="2.5" height="949" fill="#c0c0c0"/>
<rect x="819.52" y="2829" width="2.5" height="949" fill="#c0c0c0"/>
<rect x="943.75" y="2829" width="2.5" height="949" fill="#c0c0c0"/>
<rect x="1067.98" y="2829" width="2.5" height="949" fill="#c0c0c0"/>
<rect x="1192.21" y="2829" width="2.5" height="949" fill="#c0c0c0"/>
<rect x="1316.44" y="2829" width="2.5" height="949" fill="#c0c0c0"/>
<rect x="1440.67" y="2829" width="2.5" height="949" fill="#c0c0c0"/>
<rect x="1564.9" y="2829" width="2.5" height="949" fill="#c0c0c0"/>
<rect x="299" y="2891.02" width="1292" height="2.5" fill="#c0c0c0"/>
<rect x="299" y="2954.28" width="1292" height="2.5" fill="#c0c0c0"/>
<rect x="299" y="3017.55" width="1292" height="2.5" fill="#c0c0c0"/>
<rect x="299" y="3080.82" width="1292" height="2.5" fill="#c0c0c0"/>
<rect x="299" y="3144.08" width="1292" height="2.5" fill="#c0c0c0"/>
<rect x="299" y="3207.35" width="1292" height="2.5" fill="#c0c0c0"/>
<rect x="299" y="3270.62" width="1292" height="2.5" fill="#c0c0c0"/>
<rect x="299" y="3333.88" width="1292" height="2.5" fill="#c0c0c0"/>
<rect x="299" y="3397.15" width="1292" height="2.5" fill="#c0c0c0"/>
<rect x="299" y="3460.42" width="1292" height="2.5" fill="#c0c0c0"/>
<rect x="299" y="3523.68" width="1292" height="2.5" fill="#c0c0c0"/>
<rect x="299" y="3586.95" width="1292" height="2.5" fill="#c0c0c0"/>
<rect x="299" y="3650.22" width="1292" height="2.5" fill="#c0c0c0"/>
<rect x="299" y="3713.48" width="1292" height="2.5" fill="#c0c0c0"/>
<clipPath id="clipc"><rect x="299" y="2829" width="1292" height="949"/></clipPath>
<polyline points="297.8,3289.5 297.8,3287.9 300.7,3322.0 300.8,3325.7 303.8,3324.7 306.8,3318.5 307.8,3324.8 309.8,3315.1 312.8,3292.4 315.8,3267.4 317.7,3256.7 318.8,3263.7 321.8,3274.5 322.0,3273.7 324.8,3288.7 327.8,3302.1 330.8,3319.1 331.9,3322.0 333.8,3316.1 336.8,3314.7 339.8,3309.2 340.4,3310.6 342.8,3307.3 345.8,3297.3 348.8,3288.4 351.8,3278.7 351.8,3282.2 354.8,3289.5 357.8,3299.1 358.9,3302.1 360.8,3290.2 363.8,3280.5 366.0,3262.3 366.8,3268.6 369.8,3258.7 372.8,3269.2 375.8,3283.7 377.3,3287.9 378.8,3285.4 381.8,3287.1 384.8,3285.9 387.8,3293.2 390.8,3277.5 391.5,3282.2 393.8,3278.2 396.8,3286.1 399.8,3276.9 402.8,3274.0 402.9,3270.9 405.8,3266.4 408.8,3259.0 411.8,3264.9 414.3,3262.3 414.8,3265.7 417.8,3277.4 420.8,3297.4 423.8,3317.8 424.2,3320.5 426.8,3301.0 429.8,3287.1 432.8,3270.4 434.1,3262.3 435.8,3250.2 438.8,3226.2 441.2,3211.2 441.8,3216.2 444.8,3228.9 447.8,3237.7 450.8,3244.0 453.8,3262.4 455.4,3265.2 456.8,3257.0 459.8,3250.4 462.8,3228.9 465.4,3222.6 465.8,3227.9 468.8,3232.7 471.8,3236.2 473.9,3248.1 474.8,3243.3 477.8,3233.8 480.8,3223.6 483.8,3206.8 483.8,3211.2 486.8,3208.8 489.8,3217.3 492.8,3216.8 493.8,3219.8 495.8,3232.0 498.8,3251.1 499.4,3251.0 501.8,3241.5 504.8,3247.4 507.8,3249.1 510.8,3239.7 510.8,3241.0 513.8,3243.0 516.8,3255.6 519.8,3259.0 522.2,3262.3 522.8,3263.4 525.8,3243.2 528.8,3223.5 531.8,3215.1 532.1,3214.1 534.8,3233.8 537.8,3263.4 540.8,3284.8 542.0,3293.6 543.8,3278.7 546.8,3268.1 549.8,3264.9 552.8,3251.5 555.8,3233.0 557.6,3228.3 558.8,3230.4 561.8,3237.8 564.8,3243.2 567.8,3250.3 570.4,3251.0 570.8,3254.3 573.8,3268.7 576.8,3284.0 578.9,3296.4 579.8,3296.5 582.8,3266.0 585.8,3259.9 586.0,3259.5 588.8,3284.3 591.8,3304.1 593.1,3322.0 594.8,3321.1 597.8,3312.5 600.8,3315.1 603.8,3306.4 606.8,3305.8 607.3,3302.1 609.8,3319.7 612.8,3330.4 615.8,3339.2 617.3,3350.4 618.8,3335.3 621.8,3333.4 624.8,3308.4 625.0,3307.8 627.8,3318.7 630.8,3337.3 633.8,3350.8 636.4,3364.6 636.8,3365.9 639.8,3343.2 642.8,3324.0 644.9,3310.6 645.8,3312.2 648.8,3333.5 651.8,3342.8 653.4,3356.0 654.8,3358.1 657.8,3360.0 660.8,3344.3 661.9,3350.4 663.8,3332.3 666.8,3335.1 669.8,3332.8 670.4,3319.1 672.8,3323.4 675.8,3333.4 678.8,3352.7 678.9,3350.4 681.8,3326.7 684.8,3307.5 687.8,3287.6 690.8,3270.9 691.7,3262.3 693.8,3273.1 696.8,3294.2 698.8,3304.9 699.8,3308.4 702.8,3318.5 705.8,3333.8 707.3,3341.8 708.8,3338.5 711.8,3344.8 714.8,3341.7 715.9,3347.5 717.8,3354.0 720.8,3383.5 723.0,3390.1 723.8,3386.7 726.8,3374.6 729.8,3365.1 732.8,3348.9 732.9,3350.4 735.8,3330.5 738.6,3313.4 738.8,3315.0 741.8,3310.4 744.8,3299.9 747.1,3302.1 747.8,3308.1 750.8,3311.1 753.8,3318.5 756.8,3328.6 757.0,3333.3 759.8,3311.9 762.8,3300.0 765.5,3273.7 765.8,3268.9 768.8,3280.3 771.8,3275.3 774.8,3290.2 777.8,3299.6 778.3,3296.4 780.8,3309.5 783.8,3324.8 786.8,3345.7 788.3,3353.2 789.8,3340.1 792.8,3307.6 795.4,3276.5 795.8,3285.5 798.8,3278.4 801.8,3275.7 804.8,3278.7 805.3,3279.4 807.8,3300.8 810.8,3327.6 813.8,3353.1 813.8,3353.2 816.8,3313.2 819.8,3264.1 820.9,3256.7 822.8,3263.0 825.8,3260.6 828.8,3261.9 831.8,3274.0 833.7,3273.7 834.8,3287.5 837.8,3305.4 840.8,3325.5 840.8,3324.8 843.8,3307.6 846.8,3311.7 849.3,3287.9 849.8,3292.9 852.8,3289.8 855.0,3299.3 855.8,3300.9 858.8,3323.8 861.8,3335.4 863.5,3353.2 864.8,3352.3 867.8,3345.8 870.8,3349.6 873.8,3344.7 874.9,3339.0 876.8,3315.2 879.8,3309.4 880.5,3304.9 882.8,3297.0 885.8,3308.4 888.8,3303.3 890.5,3302.1 891.8,3297.2 894.8,3272.9 897.8,3268.8 899.0,3253.8 900.8,3283.0 903.8,3302.8 906.1,3333.3 906.8,3329.1 909.8,3299.4 912.8,3277.2 914.6,3262.3 915.8,3259.8 918.8,3282.0 921.8,3277.3 923.1,3285.1 924.8,3275.8 927.8,3265.3 930.8,3246.1 931.6,3245.3 933.8,3237.7 936.8,3227.3 939.8,3220.4 940.2,3219.8 942.8,3233.2 945.8,3258.1 947.3,3270.9 948.8,3269.2 951.8,3267.2 954.8,3267.5 955.0,3267.1 957.8,3258.6 960.8,3255.6 963.8,3243.0 964.9,3241.6 966.8,3246.6 969.8,3253.1 972.8,3262.7 973.5,3267.1 975.8,3257.5 978.8,3260.3 981.8,3247.7 983.4,3250.1 984.8,3253.7 987.8,3273.6 989.1,3278.5 990.8,3278.6 993.8,3272.0 996.8,3261.6 999.8,3269.6 1000.4,3267.1 1002.8,3246.2 1005.8,3211.1 1007.5,3201.8 1008.8,3214.0 1011.8,3227.6 1014.8,3245.8 1017.8,3271.5 1018.9,3278.5 1020.8,3256.7 1023.8,3225.3 1026.8,3184.0 1029.8,3166.2 1030.2,3153.6 1032.8,3169.3 1035.8,3186.4 1038.8,3217.4 1040.2,3224.6 1041.8,3215.5 1044.8,3204.5 1047.8,3187.5 1048.7,3184.8 1050.8,3185.4 1053.8,3188.0 1056.8,3184.7 1059.8,3192.3 1062.8,3188.3 1062.9,3190.5 1065.8,3155.3 1068.8,3127.1 1070.0,3113.8 1071.8,3127.2 1074.8,3143.1 1077.8,3159.2 1079.9,3176.3 1080.8,3174.8 1083.8,3149.6 1086.8,3138.5 1087.0,3142.2 1089.8,3146.4 1092.8,3144.3 1095.8,3154.8 1097.0,3156.4 1098.8,3145.8 1101.8,3132.9 1104.8,3107.5 1106.9,3099.6 1107.8,3098.4 1110.8,3108.2 1113.8,3101.1 1116.8,3131.6 1119.8,3119.9 1122.5,3128.0 1122.8,3123.5 1125.8,3118.7 1128.8,3102.7 1131.8,3082.9 1134.8,3081.7 1135.3,3076.9 1137.8,3089.1 1140.8,3093.3 1143.8,3104.0 1143.8,3105.3 1146.8,3104.2 1149.8,3094.6 1152.8,3097.3 1155.8,3092.9 1156.6,3091.1 1158.8,3083.7 1161.8,3074.4 1164.8,3073.7 1167.8,3064.8 1170.8,3067.2 1170.8,3062.7 1173.8,3073.9 1176.8,3087.4 1179.8,3095.0 1182.1,3102.5 1182.8,3102.7 1185.8,3093.7 1188.8,3096.0 1191.8,3096.8 1192.1,3088.3 1194.8,3097.7 1197.8,3108.5 1200.8,3122.5 1202.0,3128.0 1203.8,3117.7 1206.8,3103.1 1209.8,3093.2 1212.0,3082.6 1212.8,3090.6 1215.8,3133.4 1217.6,3147.9 1218.8,3160.6 1221.8,3193.7 1221.9,3193.3 1224.8,3199.1 1227.6,3196.2 1227.8,3195.6 1230.8,3214.6 1233.8,3216.5 1236.8,3226.9 1237.5,3233.1 1239.8,3230.8 1242.8,3231.0 1245.8,3224.4 1247.4,3230.2 1248.8,3238.4 1251.8,3248.8 1254.8,3280.4 1256.0,3281.3 1257.8,3288.2 1260.8,3297.7 1263.8,3308.6 1266.8,3323.1 1267.3,3326.8 1269.8,3328.3 1272.8,3327.6 1275.8,3331.1 1278.7,3338.1 1278.8,3336.6 1281.8,3315.9 1284.8,3303.2 1286.8,3286.1 1287.8,3304.0 1290.8,3337.2 1293.6,3372.9 1293.8,3373.6 1296.8,3344.1 1299.8,3331.5 1302.8,3307.1 1303.1,3305.1 1305.8,3315.1 1308.8,3328.7 1311.8,3319.9 1312.5,3332.2 1314.8,3346.3 1317.8,3357.1 1320.7,3378.3 1320.8,3380.2 1323.8,3349.5 1326.8,3331.1 1328.8,3318.6 1329.8,3328.5 1332.8,3357.1 1335.8,3381.5 1337.0,3391.9 1338.8,3390.6 1341.8,3395.4 1344.8,3405.6 1347.8,3405.4 1347.8,3405.4 1350.8,3409.8 1353.8,3433.2 1356.8,3443.2 1359.8,3457.2 1361.4,3459.7 1362.8,3443.1 1365.8,3415.9 1368.8,3375.0 1371.8,3350.0 1372.2,3343.1 1374.8,3350.5 1377.8,3366.9 1380.8,3379.5 1381.7,3378.3 1383.8,3376.9 1386.8,3382.6 1389.8,3385.7 1392.8,3393.6 1393.9,3389.2 1395.8,3401.9 1398.8,3408.3 1401.8,3430.9 1402.0,3429.8 1404.8,3423.4 1407.8,3419.2 1410.8,3391.6 1412.9,3391.9 1413.8,3392.5 1416.8,3410.9 1419.8,3408.9 1421.0,3419.0 1422.8,3415.8 1425.8,3427.3 1428.8,3433.2 1431.8,3429.4 1431.9,3432.5 1434.8,3420.8 1437.8,3404.2 1440.8,3395.9 1443.8,3374.4 1444.1,3372.9 1446.8,3387.0 1449.8,3389.1 1452.8,3403.0 1455.8,3414.1 1456.3,3416.3 1458.8,3439.8 1461.8,3459.4 1464.4,3475.9 1464.8,3468.5 1467.8,3445.0 1470.8,3415.4 1473.8,3381.5 1473.9,3381.0 1476.8,3373.5 1479.8,3367.3 1482.8,3354.0 1485.8,3355.9 1488.8,3349.6 1488.8,3348.5 1491.8,3358.1 1494.8,3378.8 1497.8,3382.7 1500.8,3399.9 1503.8,3413.7 1505.1,3421.7 1506.8,3425.3 1509.8,3399.7 1512.8,3399.9 1515.8,3392.1 1518.8,3380.1 1521.4,3370.2 1521.8,3377.0 1524.8,3378.7 1527.8,3384.4 1530.8,3409.5 1533.8,3412.2 1536.3,3427.1 1536.8,3425.0 1539.8,3417.3 1542.8,3423.5 1545.8,3418.9 1548.8,3407.9 1551.2,3408.1 1551.8,3409.9 1554.8,3395.1 1557.8,3382.7 1560.8,3372.3 1562.0,3367.5 1563.8,3376.2 1566.8,3395.8 1569.8,3410.5 1572.8,3423.5 1574.2,3432.5 1575.8,3433.5 1578.8,3419.7 1581.8,3417.1 1584.8,3411.2 1587.8,3409.4 1587.8,3402.7 1590.8,3405.6 1592.0,3410.0" fill="none" stroke="#ff0000" stroke-width="9.5" stroke-linejoin="round" stroke-linecap="butt" clip-path="url(#clipc)"/>
<polyline points="297.8,3479.0 297.8,3478.1 300.8,3465.3 303.5,3458.3 303.8,3456.7 306.8,3449.8 309.8,3471.1 312.8,3470.4 314.9,3466.8 315.8,3463.8 318.8,3463.8 321.8,3456.5 324.8,3447.8 327.8,3449.6 330.8,3438.8 331.9,3438.4 333.8,3446.7 336.8,3460.1 339.8,3481.2 341.8,3489.5 342.8,3483.8 345.8,3471.0 348.8,3450.2 351.8,3437.8 353.2,3429.9 354.8,3430.0 357.8,3445.5 360.8,3450.3 363.1,3455.4 363.8,3461.1 366.8,3479.3 369.8,3490.8 372.8,3516.7 373.1,3515.0 375.8,3508.8 378.8,3475.0 381.8,3457.4 383.0,3458.3 384.8,3460.5 387.8,3486.1 390.8,3497.9 391.5,3500.8 393.8,3481.6 396.8,3448.6 397.2,3441.2 399.8,3456.2 402.8,3472.7 405.8,3486.9 407.2,3495.2 408.8,3491.6 411.8,3468.5 414.8,3457.6 417.8,3446.5 419.9,3435.5 420.8,3446.9 423.8,3446.4 426.8,3456.1 428.4,3466.8 429.8,3456.5 432.8,3446.8 435.8,3424.7 438.8,3415.1 441.2,3395.8 441.8,3389.2 444.8,3411.6 447.8,3420.2 450.8,3418.1 453.8,3434.1 456.8,3447.9 458.3,3446.9 459.8,3438.3 462.8,3424.3 465.8,3412.5 466.8,3395.8 468.8,3410.9 471.8,3429.1 474.8,3447.7 477.8,3474.8 480.8,3491.7 482.4,3503.7 483.8,3494.5 486.8,3476.9 489.8,3462.4 492.8,3436.7 493.8,3435.5 495.8,3446.2 498.8,3468.6 500.9,3498.0 501.8,3496.8 504.8,3469.9 507.8,3454.5 510.8,3425.9 512.2,3415.7 513.8,3418.0 516.8,3434.0 519.8,3442.0 520.7,3445.5 522.8,3432.1 525.8,3422.7 528.8,3423.5 531.8,3406.1 534.8,3395.2 534.9,3393.0 537.8,3407.0 540.8,3420.9 543.8,3443.7 544.9,3445.5 546.8,3436.0 549.8,3418.9 552.8,3407.5 554.8,3398.6 555.8,3398.5 558.8,3415.5 561.8,3431.8 564.7,3438.4 564.8,3434.0 567.8,3424.1 570.8,3394.6 573.2,3381.6 573.8,3386.2 576.8,3401.1 578.9,3418.5 579.8,3416.4 582.8,3413.9 585.8,3407.9 588.8,3403.0 590.3,3404.3 591.8,3422.5 593.1,3444.0 594.8,3428.1 597.8,3403.2 600.2,3393.0 600.8,3397.3 603.8,3427.9 606.8,3457.8 607.3,3458.3 609.8,3460.6 612.8,3468.0 615.8,3457.6 618.7,3455.4 618.8,3453.3 621.8,3461.0 624.8,3445.2 625.0,3449.7 627.8,3445.4 630.8,3427.4 633.8,3424.0 636.8,3404.2 637.8,3410.0 639.8,3424.1 642.8,3434.3 645.8,3445.7 646.3,3452.6 648.8,3460.2 651.8,3456.0 653.4,3452.6 654.8,3438.8 657.8,3405.2 660.5,3381.6 660.8,3383.9 663.8,3408.6 666.8,3437.7 667.6,3441.2 669.8,3434.1 672.8,3412.8 675.8,3398.8 678.8,3384.2 680.4,3378.8 681.8,3377.6 684.8,3391.6 687.8,3404.4 690.8,3418.4 691.7,3418.5 693.8,3431.5 696.8,3431.9 699.8,3448.0 700.2,3446.9 702.8,3453.0 705.8,3473.6 708.8,3473.4 711.8,3485.1 713.0,3486.6 714.8,3472.2 717.8,3455.7 720.8,3443.3 723.0,3429.9 723.8,3423.6 726.8,3409.7 729.8,3383.9 732.8,3376.7 732.9,3373.1 735.8,3394.8 738.8,3433.3 741.8,3450.9 742.8,3461.1 744.8,3469.6 747.8,3463.8 750.8,3477.4 753.8,3476.9 756.8,3484.0 757.0,3486.6 759.8,3479.4 762.8,3470.1 765.8,3464.9 768.8,3459.2 771.8,3451.0 774.8,3439.8 775.5,3438.4 777.8,3451.3 780.8,3478.7 783.8,3506.3 786.8,3522.6 786.8,3532.1 789.8,3525.5 792.8,3511.1 795.8,3501.1 798.8,3496.5 801.8,3485.3 803.9,3475.3 804.8,3480.6 807.8,3489.5 810.8,3509.8 811.0,3509.4 813.8,3496.4 816.8,3475.2 818.1,3472.4 819.8,3478.0 822.8,3477.3 825.8,3467.8 828.8,3478.8 831.8,3474.3 833.7,3481.0 834.8,3498.4 837.8,3530.6 838.0,3529.2 840.8,3515.8 843.8,3507.8 846.8,3503.2 849.8,3492.7 852.8,3491.6 855.0,3478.1 855.8,3487.8 858.8,3507.2 861.8,3535.1 862.1,3534.9 864.8,3502.3 867.8,3486.8 870.6,3461.1 870.8,3465.8 873.8,3473.1 876.8,3482.8 879.1,3495.2 879.8,3494.0 882.8,3484.2 885.8,3460.3 887.6,3449.7 888.8,3459.6 891.8,3508.5 893.3,3520.7 894.8,3506.2 897.8,3505.0 900.8,3488.1 903.8,3482.9 906.8,3462.9 908.9,3458.3 909.8,3467.9 912.8,3475.2 915.8,3478.1 918.8,3488.9 921.7,3509.4 921.8,3507.2 924.8,3492.4 927.8,3465.1 930.2,3446.9 930.8,3447.7 933.8,3449.0 936.8,3456.1 939.8,3457.1 942.8,3459.4 943.0,3458.3 945.8,3470.6 948.8,3498.4 951.8,3517.2 954.8,3523.2 957.2,3543.4 957.8,3549.3 960.8,3520.2 963.5,3497.1 963.8,3495.0 966.8,3489.7 969.8,3502.4 972.8,3503.0 975.8,3498.9 978.8,3494.6 979.1,3502.8 981.8,3495.4 984.8,3473.8 987.7,3463.1 987.8,3461.7 990.8,3499.7 993.8,3519.5 996.2,3528.4 996.8,3531.1 999.8,3517.0 1002.8,3514.1 1005.8,3493.1 1008.8,3496.0 1010.4,3491.4 1011.8,3486.9 1014.8,3482.3 1017.8,3478.7 1020.8,3485.9 1021.7,3482.9 1023.8,3486.1 1026.8,3490.5 1029.8,3497.6 1030.2,3494.3 1032.8,3475.0 1035.8,3455.5 1038.8,3435.2 1038.8,3443.2 1041.8,3443.5 1044.8,3450.2 1047.8,3447.9 1050.8,3453.3 1053.0,3451.7 1053.8,3452.1 1056.8,3476.8 1059.8,3497.0 1062.8,3516.4 1062.9,3522.7 1065.8,3512.1 1068.8,3488.0 1071.8,3461.1 1074.2,3448.9 1074.8,3449.2 1077.8,3471.2 1080.8,3483.8 1082.8,3502.8 1083.8,3499.7 1086.8,3476.9 1089.8,3465.9 1092.8,3447.9 1094.1,3446.0 1095.8,3446.1 1098.8,3446.3 1101.8,3449.2 1102.6,3457.4 1104.8,3440.7 1107.8,3425.2 1109.7,3417.6 1110.8,3423.9 1113.8,3446.5 1116.8,3474.0 1119.8,3491.7 1121.1,3497.1 1122.8,3484.7 1125.8,3469.1 1128.8,3442.8 1131.8,3432.5 1133.9,3412.0 1134.8,3415.7 1137.8,3411.3 1140.8,3425.0 1143.8,3429.5 1146.8,3417.9 1148.1,3431.8 1149.8,3442.0 1152.8,3467.3 1155.2,3488.6 1155.8,3478.7 1158.8,3476.6 1161.8,3471.1 1164.8,3471.6 1166.5,3465.9 1167.8,3459.1 1170.8,3450.8 1173.8,3418.5 1176.5,3403.4 1176.8,3409.7 1179.8,3415.7 1182.8,3427.3 1183.6,3429.0 1185.8,3418.2 1188.8,3407.1 1191.8,3404.6 1194.8,3403.9 1197.8,3399.9 1199.2,3389.2 1200.8,3406.6 1203.8,3433.7 1206.3,3454.5 1206.8,3447.4 1209.8,3438.0 1212.8,3417.0 1215.8,3388.5 1218.8,3370.5 1219.0,3369.4 1221.8,3388.1 1224.8,3424.0 1226.2,3429.0 1227.8,3427.6 1230.8,3419.3 1233.8,3415.6 1236.1,3409.1 1236.8,3416.9 1239.8,3438.2 1242.8,3459.5 1244.6,3480.1 1245.8,3463.9 1248.8,3435.8 1251.8,3419.7 1253.1,3406.3 1254.8,3410.2 1257.8,3381.7 1260.8,3379.2 1263.8,3369.6 1266.8,3352.6 1267.3,3355.2 1269.8,3366.1 1272.8,3372.3 1275.8,3394.6 1275.8,3389.2 1278.8,3379.4 1281.8,3375.4 1284.8,3370.9 1287.8,3358.7 1289.5,3356.6 1290.8,3350.4 1293.8,3360.4 1296.8,3370.5 1299.0,3370.2 1299.8,3373.2 1302.8,3387.5 1305.8,3394.4 1308.8,3412.7 1309.8,3416.3 1311.8,3416.4 1314.8,3408.6 1317.8,3412.3 1320.8,3398.1 1323.8,3389.6 1326.8,3382.3 1328.8,3386.4 1329.8,3388.9 1332.8,3375.2 1335.8,3371.9 1338.8,3361.2 1341.8,3358.3 1343.7,3345.8 1344.8,3358.6 1347.8,3370.6 1350.8,3393.0 1353.8,3416.0 1354.6,3416.3 1356.8,3396.0 1359.8,3388.0 1362.7,3362.0 1362.8,3367.7 1365.8,3375.3 1368.8,3378.6 1371.8,3389.4 1372.2,3389.2 1374.8,3384.6 1377.8,3390.4 1380.8,3388.0 1383.8,3391.5 1386.8,3389.4 1388.5,3391.9 1389.8,3399.2 1392.8,3417.3 1395.8,3420.1 1398.8,3444.1 1400.7,3448.8 1401.8,3439.3 1404.8,3437.3 1407.8,3445.1 1410.8,3444.4 1412.9,3443.4 1413.8,3448.7 1416.8,3450.4 1419.8,3468.7 1422.8,3480.6 1425.8,3496.8 1428.8,3501.7 1430.5,3508.5 1431.8,3506.7 1434.8,3490.2 1437.8,3484.0 1440.8,3473.1 1441.4,3473.2 1443.8,3481.7 1446.8,3480.7 1449.8,3488.1 1452.8,3501.1 1453.6,3500.3 1455.8,3515.2 1458.8,3518.2 1461.8,3527.2 1464.8,3533.6 1465.8,3538.3 1467.8,3536.4 1470.8,3523.6 1473.8,3518.7 1475.3,3505.8 1476.8,3510.6 1479.8,3511.5 1482.8,3519.8 1485.8,3524.5 1488.8,3530.0 1488.8,3535.6 1491.8,3551.1 1494.8,3558.9 1497.8,3559.5 1500.8,3582.9 1503.7,3584.4 1503.8,3584.6 1506.8,3553.5 1507.8,3549.2 1509.8,3560.5 1512.8,3572.7 1515.8,3583.9 1518.6,3600.7 1518.8,3590.8 1521.8,3582.9 1524.8,3567.2 1526.8,3554.6 1527.8,3546.0 1530.8,3569.1 1533.8,3578.5 1534.9,3579.0 1536.8,3564.8 1539.8,3548.2 1541.7,3535.6 1542.8,3539.3 1545.8,3550.5 1548.8,3566.3 1551.8,3587.6 1554.8,3588.7 1556.6,3603.4 1557.8,3594.8 1560.8,3570.5 1563.8,3542.3 1564.7,3538.3 1566.8,3558.5 1569.8,3585.8 1572.8,3620.0 1574.2,3638.6 1575.8,3632.3 1578.8,3621.7 1581.0,3611.5 1581.8,3605.6 1584.8,3616.2 1587.8,3592.7 1587.8,3595.3 1590.8,3592.1 1592.0,3590.0" fill="none" stroke="#ff8000" stroke-width="9.5" stroke-linejoin="round" stroke-linecap="butt" clip-path="url(#clipc)"/>
<polyline points="297.8,3666.2 297.8,3657.0 300.8,3672.4 303.5,3708.1 303.8,3708.5 306.8,3689.1 309.2,3679.7 309.8,3675.9 312.8,3667.9 315.8,3650.8 318.8,3649.8 321.8,3637.9 324.8,3647.8 326.2,3628.6 327.8,3634.6 330.8,3641.5 333.8,3651.2 336.8,3658.9 339.8,3666.6 342.8,3679.0 345.8,3692.3 346.1,3691.1 348.8,3683.3 351.8,3681.2 354.8,3668.5 357.5,3662.7 357.8,3662.7 360.8,3668.9 363.8,3663.7 366.8,3658.3 369.8,3659.1 370.2,3659.8 372.8,3648.5 374.5,3637.1 375.8,3645.3 378.8,3634.2 381.8,3633.1 384.8,3637.5 387.8,3627.8 388.7,3631.4 390.8,3628.9 393.8,3632.6 396.8,3629.6 399.8,3625.8 402.8,3626.7 404.3,3622.9 405.8,3618.2 408.8,3651.6 411.8,3658.7 412.8,3668.4 414.8,3661.8 417.8,3671.8 420.8,3675.1 423.8,3671.2 425.6,3674.0 426.8,3664.8 429.8,3658.7 432.8,3647.3 434.1,3642.8 435.8,3654.2 438.8,3660.3 441.8,3666.9 442.6,3668.4 444.8,3666.8 447.8,3651.9 450.2,3645.6 450.8,3644.0 453.8,3663.4 456.8,3676.0 458.3,3679.7 459.8,3669.7 462.8,3649.2 465.4,3637.1 465.8,3637.6 468.8,3621.1 471.8,3631.3 474.8,3626.2 477.8,3612.4 479.6,3617.3 480.8,3628.0 483.8,3649.4 486.8,3683.2 488.1,3691.1 489.8,3671.7 492.8,3658.7 495.8,3648.0 496.6,3640.0 498.8,3647.7 501.8,3636.2 504.8,3647.1 506.5,3651.3 507.8,3644.1 510.8,3619.8 513.8,3609.7 515.0,3594.5 516.8,3601.5 519.8,3629.1 522.8,3643.4 525.8,3675.1 527.8,3682.5 528.8,3679.6 531.8,3669.7 534.8,3655.2 534.9,3662.7 537.8,3684.2 540.8,3694.4 542.0,3696.8 543.8,3685.8 546.8,3663.5 549.1,3640.0 549.8,3641.0 552.8,3634.3 555.8,3631.3 558.8,3629.1 560.5,3631.4 561.8,3651.1 564.8,3669.6 567.6,3705.3 567.8,3701.3 570.8,3682.7 573.8,3665.4 576.8,3647.2 579.8,3619.2 581.8,3611.6 582.8,3606.1 585.8,3620.6 588.8,3632.9 591.8,3637.6 593.1,3637.1 594.8,3635.7 597.8,3629.1 600.8,3627.7 603.8,3621.1 606.8,3621.7 607.3,3617.3 609.8,3625.7 612.8,3644.3 615.8,3657.6 618.8,3674.9 621.5,3685.4 621.8,3684.5 624.8,3675.8 627.8,3651.9 628.6,3640.0 630.8,3646.7 632.1,3640.0 633.8,3638.8 636.8,3660.4 639.8,3673.2 640.6,3679.7 642.8,3675.1 645.8,3652.8 647.7,3657.0 648.8,3666.0 651.8,3675.5 654.8,3674.9 656.2,3685.4 657.8,3673.2 660.8,3659.3 663.8,3648.5 666.8,3636.5 669.0,3622.9 669.8,3636.3 672.8,3641.9 675.8,3661.9 678.8,3674.8 680.4,3682.5 681.8,3687.2 684.8,3675.8 687.8,3671.7 690.3,3659.8 690.8,3656.8 693.8,3672.0 696.8,3680.4 699.8,3702.1 700.2,3696.8 702.8,3689.4 705.8,3673.1 708.8,3660.5 710.2,3657.0 711.8,3659.5 714.8,3654.8 717.8,3654.3 720.8,3661.3 723.8,3670.8 724.4,3659.8 726.8,3662.5 729.8,3665.9 732.8,3668.0 735.8,3672.0 738.6,3682.5 738.8,3685.2 741.8,3692.0 744.8,3693.5 747.8,3700.2 749.9,3702.4 750.8,3696.0 753.8,3673.1 756.8,3642.5 758.4,3637.1 759.8,3638.9 762.8,3649.7 765.8,3653.9 768.8,3663.5 769.8,3668.4 771.8,3679.7 774.8,3704.3 775.5,3711.0 777.8,3706.2 780.8,3689.4 783.8,3679.3 785.4,3674.0 786.8,3682.4 789.8,3691.9 792.8,3706.9 795.4,3708.1 795.8,3698.1 798.8,3706.8 801.8,3696.3 804.8,3694.6 806.7,3691.1 807.8,3691.7 810.8,3684.3 813.8,3675.6 816.7,3662.7 816.8,3663.8 819.8,3683.1 822.8,3687.3 825.8,3700.7 828.8,3717.7 829.4,3716.6 831.8,3704.0 834.8,3703.5 837.8,3685.7 840.8,3678.2 840.8,3668.4 843.8,3670.5 846.8,3671.2 849.8,3675.9 852.1,3676.9 852.8,3680.1 855.8,3673.5 858.8,3677.2 861.8,3674.8 864.8,3681.6 866.3,3674.0 867.8,3673.0 870.8,3684.7 873.8,3681.0 874.9,3685.4 876.8,3660.9 879.8,3630.1 880.5,3625.8 882.8,3636.4 885.8,3663.2 888.8,3688.0 889.1,3685.4 891.8,3679.7 894.8,3674.6 896.2,3668.4 897.8,3682.7 900.8,3689.6 903.8,3702.3 904.7,3705.3 906.8,3706.6 909.8,3704.2 911.8,3713.8 912.8,3708.1 915.8,3669.4 917.4,3662.7 918.8,3667.5 921.8,3668.5 924.8,3677.6 927.8,3676.2 930.2,3679.7 930.8,3678.4 933.8,3695.6 934.5,3696.8 936.8,3669.1 939.8,3637.9 940.2,3634.3 942.8,3639.7 945.8,3644.9 948.8,3650.7 951.5,3657.0 951.8,3651.9 954.8,3641.6 957.8,3619.7 958.6,3625.8 960.8,3635.1 963.8,3644.0 966.8,3668.0 967.8,3667.5 969.8,3662.5 972.8,3632.0 975.8,3625.3 976.3,3622.0 978.8,3633.1 981.8,3643.0 984.8,3664.2 984.8,3661.8 987.8,3655.9 990.8,3646.2 993.8,3649.1 996.8,3645.8 999.8,3643.1 1000.4,3641.9 1002.8,3635.9 1005.8,3643.6 1008.8,3643.6 1011.8,3634.5 1014.6,3639.1 1014.8,3636.7 1017.8,3648.3 1020.8,3655.2 1023.1,3664.6 1023.8,3668.6 1026.8,3645.3 1028.8,3633.4 1029.8,3637.2 1032.8,3663.4 1035.8,3691.9 1035.9,3693.0 1038.8,3698.1 1041.8,3681.6 1044.8,3677.6 1047.8,3673.9 1050.1,3667.5 1050.8,3668.5 1053.8,3683.9 1056.8,3676.3 1058.6,3681.7 1059.8,3679.7 1062.8,3663.6 1064.3,3656.1 1065.8,3662.6 1068.8,3662.0 1071.8,3682.7 1074.8,3681.7 1075.7,3684.5 1077.8,3670.4 1080.8,3645.7 1082.8,3636.3 1083.8,3631.9 1086.8,3634.2 1089.8,3632.7 1092.7,3624.9 1092.8,3628.2 1095.8,3627.7 1098.8,3622.9 1101.8,3617.2 1102.6,3616.4 1104.8,3629.6 1107.8,3641.4 1110.8,3651.1 1111.2,3653.3 1113.8,3635.7 1116.8,3614.0 1119.8,3585.2 1122.5,3562.4 1122.8,3562.5 1125.8,3584.4 1128.8,3606.8 1131.0,3610.7 1131.8,3613.4 1134.8,3627.8 1137.8,3641.5 1139.6,3650.4 1140.8,3647.1 1143.8,3611.3 1146.8,3599.2 1148.1,3588.0 1149.8,3599.6 1152.8,3601.6 1155.8,3623.0 1156.6,3619.2 1158.8,3612.4 1161.8,3595.0 1164.8,3585.8 1167.8,3565.4 1170.8,3557.2 1172.2,3553.9 1173.8,3569.5 1176.8,3571.0 1179.8,3597.1 1182.8,3602.3 1185.8,3620.9 1186.4,3619.2 1188.8,3606.3 1191.8,3579.7 1194.8,3570.9 1196.3,3565.3 1197.8,3572.9 1200.8,3580.3 1202.0,3590.8 1203.8,3577.5 1206.8,3573.2 1209.1,3562.4 1209.8,3561.4 1212.8,3565.1 1215.8,3578.1 1216.2,3582.3 1218.8,3583.2 1221.8,3573.8 1224.8,3576.7 1227.8,3575.9 1230.8,3565.8 1233.8,3557.1 1236.1,3559.6 1236.8,3554.7 1239.8,3564.7 1242.8,3573.0 1245.8,3574.4 1248.8,3579.9 1250.3,3579.5 1251.8,3582.0 1254.8,3594.4 1257.8,3599.9 1260.8,3609.6 1261.6,3613.5 1263.8,3591.0 1266.8,3566.9 1268.7,3559.6 1269.8,3566.8 1272.8,3589.5 1275.8,3615.8 1278.7,3644.8 1278.8,3646.9 1281.8,3615.5 1284.8,3601.1 1287.8,3564.3 1288.1,3557.3 1290.8,3566.3 1293.8,3585.8 1296.8,3597.1 1299.8,3605.6 1301.7,3617.0 1302.8,3619.8 1305.8,3605.3 1308.8,3589.0 1311.8,3600.4 1314.8,3588.0 1315.3,3589.8 1317.8,3606.5 1320.8,3608.9 1323.8,3618.5 1326.8,3642.8 1329.8,3643.0 1332.8,3660.8 1332.9,3660.3 1335.8,3655.2 1338.8,3637.1 1341.8,3624.2 1344.8,3613.0 1346.4,3606.1 1347.8,3617.6 1350.8,3626.7 1353.8,3649.7 1356.8,3666.0 1359.8,3690.5 1362.8,3695.0 1364.1,3703.7 1365.8,3695.3 1368.8,3695.2 1371.8,3682.6 1374.8,3678.2 1374.9,3676.6 1377.8,3690.6 1380.8,3709.2 1383.1,3714.6 1383.8,3708.3 1386.8,3696.7 1389.8,3671.4 1392.8,3664.7 1395.8,3661.4 1398.8,3637.2 1401.8,3622.9 1402.0,3625.1 1404.8,3639.5 1407.8,3669.0 1410.8,3688.5 1413.8,3703.7 1414.2,3711.9 1416.8,3700.5 1419.8,3681.9 1422.8,3667.5 1425.8,3644.5 1426.4,3644.1 1428.8,3663.4 1431.8,3671.8 1434.8,3683.8 1437.8,3696.3 1440.0,3709.2 1440.8,3708.4 1443.8,3714.7 1446.8,3710.9 1449.8,3718.2 1452.8,3717.3 1455.8,3722.0 1458.8,3720.9 1459.0,3717.3 1461.8,3702.0 1464.8,3677.6 1467.1,3673.9 1467.8,3677.1 1470.8,3687.2 1473.8,3692.4 1475.3,3695.6 1476.8,3694.0 1479.8,3681.1 1482.8,3673.2 1485.8,3662.4 1486.1,3665.8 1488.8,3672.6 1491.8,3667.9 1494.8,3665.8 1496.9,3668.5 1497.8,3665.4 1500.8,3680.5 1503.8,3697.4 1506.8,3702.8 1509.8,3707.2 1511.9,3717.3 1512.8,3721.4 1515.8,3713.8 1518.8,3704.1 1521.8,3695.6 1524.8,3689.6 1526.8,3679.3 1527.8,3679.3 1530.8,3673.2 1533.8,3658.9 1536.8,3662.0 1539.8,3649.0 1540.3,3646.8 1542.8,3657.4 1545.8,3640.9 1548.8,3655.0 1551.8,3658.1 1553.9,3654.9 1554.8,3660.5 1557.8,3688.1 1560.7,3709.2 1560.8,3712.1 1563.8,3696.2 1566.8,3676.1 1568.8,3668.5 1569.8,3674.6 1572.8,3700.2 1575.6,3714.6 1575.8,3719.8 1578.8,3706.2 1581.8,3697.8 1584.8,3690.1 1586.4,3684.8 1587.8,3693.3 1590.8,3692.0 1592.0,3700.0" fill="none" stroke="#0000ff" stroke-width="9.5" stroke-linejoin="round" stroke-linecap="butt" clip-path="url(#clipc)"/>
<rect x="321.5" y="2849.5" width="432" height="354.5" fill="#fff" stroke="#000" stroke-width="3"/>
<rect x="295" y="2825" width="1300" height="8" fill="#000"/>
<rect x="295" y="3774" width="1300" height="8" fill="#000"/>
<rect x="295" y="2825" width="8" height="957" fill="#000"/>
<rect x="1587" y="2825" width="8" height="957" fill="#000"/>
<rect x="319.85" y="3782" width="8" height="9.5" fill="#000"/>
<rect x="319.85" y="2815.5" width="8" height="9.5" fill="#000"/>
<rect x="444.08" y="3782" width="8" height="19" fill="#000"/>
<rect x="444.08" y="2806" width="8" height="19" fill="#000"/>
<rect x="568.31" y="3782" width="8" height="9.5" fill="#000"/>
<rect x="568.31" y="2815.5" width="8" height="9.5" fill="#000"/>
<rect x="692.54" y="3782" width="8" height="19" fill="#000"/>
<rect x="692.54" y="2806" width="8" height="19" fill="#000"/>
<rect x="816.77" y="3782" width="8" height="9.5" fill="#000"/>
<rect x="816.77" y="2815.5" width="8" height="9.5" fill="#000"/>
<rect x="941" y="3782" width="8" height="19" fill="#000"/>
<rect x="941" y="2806" width="8" height="19" fill="#000"/>
<rect x="1065.23" y="3782" width="8" height="9.5" fill="#000"/>
<rect x="1065.23" y="2815.5" width="8" height="9.5" fill="#000"/>
<rect x="1189.46" y="3782" width="8" height="19" fill="#000"/>
<rect x="1189.46" y="2806" width="8" height="19" fill="#000"/>
<rect x="1313.69" y="3782" width="8" height="9.5" fill="#000"/>
<rect x="1313.69" y="2815.5" width="8" height="9.5" fill="#000"/>
<rect x="1437.92" y="3782" width="8" height="19" fill="#000"/>
<rect x="1437.92" y="2806" width="8" height="19" fill="#000"/>
<rect x="1562.15" y="3782" width="8" height="9.5" fill="#000"/>
<rect x="1562.15" y="2815.5" width="8" height="9.5" fill="#000"/>
<rect x="276" y="2825" width="19" height="8" fill="#000"/>
<rect x="1595" y="2825" width="19" height="8" fill="#000"/>
<rect x="285.5" y="2888.27" width="9.5" height="8" fill="#000"/>
<rect x="1595" y="2888.27" width="9.5" height="8" fill="#000"/>
<rect x="276" y="2951.53" width="19" height="8" fill="#000"/>
<rect x="1595" y="2951.53" width="19" height="8" fill="#000"/>
<rect x="285.5" y="3014.8" width="9.5" height="8" fill="#000"/>
<rect x="1595" y="3014.8" width="9.5" height="8" fill="#000"/>
<rect x="276" y="3078.07" width="19" height="8" fill="#000"/>
<rect x="1595" y="3078.07" width="19" height="8" fill="#000"/>
<rect x="285.5" y="3141.33" width="9.5" height="8" fill="#000"/>
<rect x="1595" y="3141.33" width="9.5" height="8" fill="#000"/>
<rect x="276" y="3204.6" width="19" height="8" fill="#000"/>
<rect x="1595" y="3204.6" width="19" height="8" fill="#000"/>
<rect x="285.5" y="3267.87" width="9.5" height="8" fill="#000"/>
<rect x="1595" y="3267.87" width="9.5" height="8" fill="#000"/>
<rect x="276" y="3331.13" width="19" height="8" fill="#000"/>
<rect x="1595" y="3331.13" width="19" height="8" fill="#000"/>
<rect x="285.5" y="3394.4" width="9.5" height="8" fill="#000"/>
<rect x="1595" y="3394.4" width="9.5" height="8" fill="#000"/>
<rect x="276" y="3457.67" width="19" height="8" fill="#000"/>
<rect x="1595" y="3457.67" width="19" height="8" fill="#000"/>
<rect x="285.5" y="3520.93" width="9.5" height="8" fill="#000"/>
<rect x="1595" y="3520.93" width="9.5" height="8" fill="#000"/>
<rect x="276" y="3584.2" width="19" height="8" fill="#000"/>
<rect x="1595" y="3584.2" width="19" height="8" fill="#000"/>
<rect x="285.5" y="3647.47" width="9.5" height="8" fill="#000"/>
<rect x="1595" y="3647.47" width="9.5" height="8" fill="#000"/>
<rect x="276" y="3710.73" width="19" height="8" fill="#000"/>
<rect x="1595" y="3710.73" width="19" height="8" fill="#000"/>
<rect x="285.5" y="3774" width="9.5" height="8" fill="#000"/>
<rect x="1595" y="3774" width="9.5" height="8" fill="#000"/>
<g font-family="'Liberation Serif','Times New Roman',serif" fill="#000">
<text transform="translate(62.23 115.95) scale(1.0672 1)" font-size="89" font-weight="bold">(a)</text>
<text transform="translate(58.87 1472.15) scale(1.0694 1)" font-size="89" font-weight="bold">(b)</text>
<text transform="translate(78.32 2825.05) scale(1.0687 1)" font-size="89" font-weight="bold">(c)</text>
<text transform="translate(254.65 1186.2) scale(1.0450 1)" font-size="57.3">470</text>
<text transform="translate(416.15 1186.2) scale(1.0450 1)" font-size="57.3">468</text>
<text transform="translate(577.4 1186.2) scale(1.0450 1)" font-size="57.3">466</text>
<text transform="translate(738.47 1186.2) scale(1.0450 1)" font-size="57.3">464</text>
<text transform="translate(901.16 1186.2) scale(1.0450 1)" font-size="57.3">462</text>
<text transform="translate(1062.15 1186.2) scale(1.0450 1)" font-size="57.3">460</text>
<text transform="translate(1223.65 1186.2) scale(1.0450 1)" font-size="57.3">458</text>
<text transform="translate(1384.9 1186.2) scale(1.0450 1)" font-size="57.3">456</text>
<text transform="translate(1545.97 1186.2) scale(1.0450 1)" font-size="57.3">454</text>
<text transform="translate(333.66 2514) scale(1.0450 1)" font-size="57.3">80</text>
<text transform="translate(462.12 2514) scale(1.0450 1)" font-size="57.3">79</text>
<text transform="translate(591.23 2514) scale(1.0450 1)" font-size="57.3">78</text>
<text transform="translate(720.15 2514) scale(1.0450 1)" font-size="57.3">77</text>
<text transform="translate(849.38 2514) scale(1.0450 1)" font-size="57.3">76</text>
<text transform="translate(978.86 2514) scale(1.0450 1)" font-size="57.3">75</text>
<text transform="translate(1107.36 2514) scale(1.0450 1)" font-size="57.3">74</text>
<text transform="translate(1237.26 2514) scale(1.0450 1)" font-size="57.3">73</text>
<text transform="translate(1366.94 2514) scale(1.0450 1)" font-size="57.3">72</text>
<text transform="translate(1496.29 2514) scale(1.0450 1)" font-size="57.3">71</text>
<text transform="translate(402.36 3853.5) scale(1.0450 1)" font-size="57.3">725</text>
<text transform="translate(650.8 3853.5) scale(1.0450 1)" font-size="57.3">720</text>
<text transform="translate(899.29 3853.5) scale(1.0450 1)" font-size="57.3">715</text>
<text transform="translate(1147.72 3853.5) scale(1.0450 1)" font-size="57.3">710</text>
<text transform="translate(1396.21 3853.5) scale(1.0450 1)" font-size="57.3">705</text>
<text transform="translate(649.67 1273.7) scale(1.0131 1)" font-size="76.34">Binding Energy (eV)</text>
<text transform="translate(621.46 2620.2) scale(1.0339 1)" font-size="75.11">Binding Energy (eV)</text>
<text transform="translate(629.97 3945.6) scale(1.0293 1)" font-size="75.11">Binding Energy (eV)</text>
<text transform="translate(219.1 952.82) rotate(-90) scale(0.9630 1)" font-size="80.92">Intensity (arb. units)</text>
<text transform="translate(213.6 2269.8) rotate(-90) scale(0.9663 1)" font-size="80.31">Intensity (arb. units)</text>
<text transform="translate(218.6 3606.02) rotate(-90) scale(0.9797 1)" font-size="79.54">Intensity (arb. units)</text>
<text transform="translate(347.22 257.4) scale(1.0262 1)" font-size="58.01">Ti 2p</text>
<rect x="345.3" y="310.7" width="130" height="8.6" fill="#ff0000"/>
<rect x="345.3" y="403.7" width="130" height="8.6" fill="#ff8000"/>
<rect x="345.3" y="497.1" width="130" height="8.6" fill="#0000ff"/>
<text transform="translate(485.57 330.3) scale(1.0452 1)" font-size="57.56">Fe-TiO</text>
<text transform="translate(659.36 355) scale(1.2083 1)" font-size="30.97">2</text>
<text transform="translate(678.91 330.3) scale(1.0236 1)" font-size="57.56">-375</text>
<text transform="translate(485.57 424.6) scale(1.0452 1)" font-size="57.56">Fe-TiO</text>
<text transform="translate(659.36 449.3) scale(1.2083 1)" font-size="30.97">2</text>
<text transform="translate(678.91 424.6) scale(1.0236 1)" font-size="57.56">-525</text>
<text transform="translate(485.57 518.9) scale(1.0452 1)" font-size="57.56">Fe-TiO</text>
<text transform="translate(659.36 543.6) scale(1.2083 1)" font-size="30.97">2</text>
<text transform="translate(678.92 518.9) scale(1.0230 1)" font-size="57.56">-750</text>
<text transform="translate(343.92 1579.8) scale(1.0151 1)" font-size="58.63">Al 2p</text>
<rect x="345.4" y="1636.6" width="126.5" height="5.2" fill="#ff0000"/>
<rect x="345.4" y="1728.9" width="126.5" height="5.2" fill="#ff8000"/>
<rect x="345.4" y="1823.3" width="126.5" height="5.2" fill="#0000ff"/>
<text transform="translate(482.27 1655.4) scale(1.0336 1)" font-size="58.17">Fe-TiO</text>
<text transform="translate(656.8 1677.7) scale(1.3699 1)" font-size="26.59">2</text>
<text transform="translate(676.11 1655.4) scale(1.0128 1)" font-size="58.17">-375</text>
<text transform="translate(482.27 1748.7) scale(1.0336 1)" font-size="58.17">Fe-TiO</text>
<text transform="translate(656.8 1771) scale(1.3699 1)" font-size="26.59">2</text>
<text transform="translate(676.11 1748.7) scale(1.0128 1)" font-size="58.17">-525</text>
<text transform="translate(482.27 1842) scale(1.0336 1)" font-size="58.17">Fe-TiO</text>
<text transform="translate(656.8 1864.3) scale(1.3699 1)" font-size="26.59">2</text>
<text transform="translate(676.12 1842) scale(1.0122 1)" font-size="58.17">-750</text>
<text transform="translate(323.49 2904.8) scale(1.0319 1)" font-size="57.56">Fe 2p</text>
<rect x="322.4" y="2960.9" width="113.9" height="8.2" fill="#ff0000"/>
<rect x="322.4" y="3053.7" width="113.9" height="8.2" fill="#ff8000"/>
<rect x="322.4" y="3148.3" width="113.9" height="8.2" fill="#0000ff"/>
<text transform="translate(443.67 2977.6) scale(1.0318 1)" font-size="58.17">Fe-TiO</text>
<text transform="translate(618.02 3002.7) scale(1.0908 1)" font-size="32.93">2</text>
<text transform="translate(637.03 2977.6) scale(1.0040 1)" font-size="58.17">-375</text>
<text transform="translate(443.67 3072.2) scale(1.0318 1)" font-size="58.17">Fe-TiO</text>
<text transform="translate(618.02 3097.3) scale(1.0908 1)" font-size="32.93">2</text>
<text transform="translate(637.03 3072.2) scale(1.0040 1)" font-size="58.17">-525</text>
<text transform="translate(443.67 3166.8) scale(1.0318 1)" font-size="58.17">Fe-TiO</text>
<text transform="translate(618.02 3191.9) scale(1.0908 1)" font-size="32.93">2</text>
<text transform="translate(637.03 3166.8) scale(1.0034 1)" font-size="58.17">-750</text>
</g></svg>
</body></html>
